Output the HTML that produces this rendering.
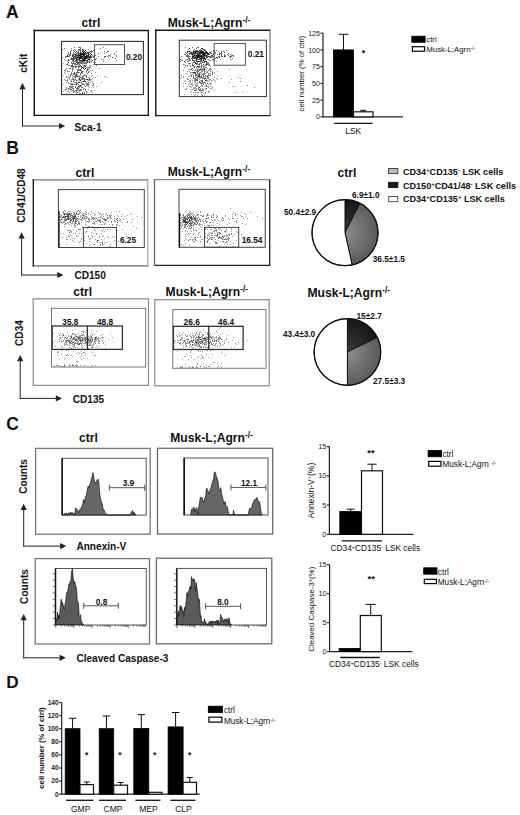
<!DOCTYPE html>
<html><head><meta charset="utf-8"><style>
html,body{margin:0;padding:0;background:#fff;}
body{width:520px;height:815px;overflow:hidden;}
svg{display:block;font-family:"Liberation Sans",sans-serif;}
</style></head><body>
<svg width="520" height="815" viewBox="0 0 520 815">
<defs><radialGradient id="gg" cx="50%" cy="50%" r="50%"><stop offset="0" stop-color="#8c8c8c"/><stop offset="1" stop-color="#5c5c5c"/></radialGradient><radialGradient id="gb" cx="50%" cy="50%" r="50%"><stop offset="0" stop-color="#3a3a3a"/><stop offset="1" stop-color="#151515"/></radialGradient><filter id="bl" x="-5%" y="-5%" width="110%" height="110%"><feGaussianBlur stdDeviation="0.35"/></filter></defs>
<rect width="520" height="815" fill="#fff"/>
<text x="5.9" y="17.9" font-size="17.5" font-weight="bold" text-anchor="start" fill="#111" >A</text>
<text x="91" y="26.7" font-size="12.1" font-weight="bold" text-anchor="middle" fill="#111" >ctrl</text>
<text x="167.8" y="26.7" font-size="12.1" font-weight="bold" text-anchor="start" fill="#111" >Musk-L;Agrn<tspan font-size="70%" baseline-shift="45%">-/-</tspan></text>
<line x1="33.6" y1="30.5" x2="149" y2="30.5" stroke="#1a1a1a" stroke-width="1.4"/>
<line x1="148.3" y1="30.5" x2="148.3" y2="115.4" stroke="#222" stroke-width="1.4"/>
<line x1="33.6" y1="115.4" x2="149" y2="115.4" stroke="#111" stroke-width="1.4"/>
<line x1="34.3" y1="29.8" x2="34.3" y2="116.1" stroke="#111" stroke-width="1.4"/>
<rect x="61.5" y="41.4" width="81.9" height="53.2" fill="none" stroke="#333" stroke-width="1.1" />
<path d="M90 51h1v1h-1zM76 56h1v1h-1zM78 51h1v1h-1zM73 53h1v1h-1zM85 54h1v1h-1zM80 52h1v1h-1zM93 50h1v1h-1zM87 53h1v1h-1zM87 58h1v1h-1zM91 56h1v1h-1zM83 56h1v1h-1zM82 60h1v1h-1zM89 54h1v1h-1zM76 55h1v1h-1zM94 54h1v1h-1zM79 56h1v1h-1zM79 54h1v1h-1zM74 56h1v1h-1zM76 57h1v1h-1zM84 61h1v1h-1zM82 57h1v1h-1zM91 57h1v1h-1zM86 61h1v1h-1zM90 58h1v1h-1zM77 56h1v1h-1zM83 51h1v1h-1zM76 51h1v1h-1zM86 51h1v1h-1zM82 55h1v1h-1zM79 62h1v1h-1zM82 67h1v1h-1zM71 65h1v1h-1zM87 57h1v1h-1zM84 63h1v1h-1zM65 56h1v1h-1zM91 52h1v1h-1zM91 59h1v1h-1zM77 53h1v1h-1zM78 49h1v1h-1zM71 50h1v1h-1zM101 59h1v1h-1zM79 53h1v1h-1zM93 56h1v1h-1zM70 55h1v1h-1zM89 52h1v1h-1zM83 62h1v1h-1zM76 53h1v1h-1zM74 49h1v1h-1zM70 68h1v1h-1zM80 61h1v1h-1zM68 60h1v1h-1zM81 66h1v1h-1zM73 55h1v1h-1zM84 65h1v1h-1zM79 64h1v1h-1zM74 59h1v1h-1zM85 60h1v1h-1zM79 47h1v1h-1zM85 59h1v1h-1zM72 58h1v1h-1zM81 55h1v1h-1zM88 49h1v1h-1zM86 54h1v1h-1zM80 62h1v1h-1zM89 58h1v1h-1zM71 48h1v1h-1zM84 52h1v1h-1zM74 51h1v1h-1zM74 47h1v1h-1zM73 50h1v1h-1zM66 56h1v1h-1zM95 55h1v1h-1zM96 65h1v1h-1zM72 60h1v1h-1zM86 63h1v1h-1zM73 56h1v1h-1zM69 55h1v1h-1zM92 55h1v1h-1zM89 67h1v1h-1zM68 59h1v1h-1zM73 60h1v1h-1zM92 51h1v1h-1zM77 61h1v1h-1zM74 58h1v1h-1zM65 57h1v1h-1zM72 63h1v1h-1zM80 48h1v1h-1zM95 59h1v1h-1zM74 63h1v1h-1zM80 49h1v1h-1zM72 59h1v1h-1zM80 47h1v1h-1zM79 50h1v1h-1zM76 64h1v1h-1zM81 52h1v1h-1zM70 51h1v1h-1zM64 48h1v1h-1zM78 59h1v1h-1zM78 62h1v1h-1zM82 50h1v1h-1zM67 64h1v1h-1zM83 49h1v1h-1zM78 53h1v1h-1zM68 53h1v1h-1zM90 61h1v1h-1zM89 68h1v1h-1zM82 52h1v1h-1zM68 54h1v1h-1zM79 60h1v1h-1zM69 56h1v1h-1zM70 52h1v1h-1zM78 47h1v1h-1zM83 50h1v1h-1zM94 55h1v1h-1zM93 57h1v1h-1zM79 49h1v1h-1zM70 54h1v1h-1zM75 60h1v1h-1zM80 51h1v1h-1zM86 53h1v1h-1zM85 63h1v1h-1zM84 62h1v1h-1zM83 61h1v1h-1zM72 54h1v1h-1zM85 68h1v1h-1zM78 58h1v1h-1zM62 49h1v1h-1zM85 66h1v1h-1zM94 58h1v1h-1zM83 65h1v1h-1zM96 58h1v1h-1zM91 51h1v1h-1zM73 52h1v1h-1zM68 52h1v1h-1zM73 62h1v1h-1zM83 67h1v1h-1zM75 66h1v1h-1zM68 56h1v1h-1zM89 60h1v1h-1zM89 51h1v1h-1zM79 61h1v1h-1zM89 56h1v1h-1zM73 63h1v1h-1zM74 57h1v1h-1zM75 58h1v1h-1zM73 59h1v1h-1zM114 53h1v1h-1zM109 55h1v1h-1zM108 57h1v1h-1zM115 58h1v1h-1zM104 56h1v1h-1zM103 61h1v1h-1zM106 52h1v1h-1zM116 56h1v1h-1zM98 53h1v1h-1zM116 60h1v1h-1zM103 59h1v1h-1zM100 48h1v1h-1zM116 51h1v1h-1zM107 56h1v1h-1zM98 56h1v1h-1zM114 54h1v1h-1zM116 55h1v1h-1zM110 54h1v1h-1zM103 47h1v1h-1zM110 56h1v1h-1zM107 51h1v1h-1zM104 57h1v1h-1zM104 53h1v1h-1zM108 51h1v1h-1zM108 55h1v1h-1zM104 51h1v1h-1z" fill="#111" fill-opacity="0.600" filter="url(#bl)"/>
<path d="M86 56h1v1h-1zM84 51h1v1h-1zM80 50h1v1h-1zM89 62h1v1h-1zM78 56h1v1h-1zM90 55h1v1h-1zM77 59h1v1h-1zM85 50h1v1h-1zM90 56h1v1h-1zM88 54h1v1h-1zM75 52h1v1h-1zM82 49h1v1h-1zM86 55h1v1h-1zM87 55h1v1h-1zM87 60h1v1h-1zM78 57h1v1h-1zM75 56h1v1h-1zM81 60h1v1h-1zM81 58h1v1h-1zM88 53h1v1h-1zM87 62h1v1h-1zM85 53h1v1h-1zM90 53h1v1h-1zM81 57h1v1h-1zM87 52h1v1h-1zM83 54h1v1h-1zM90 57h1v1h-1zM82 53h1v1h-1zM88 52h1v1h-1zM88 57h1v1h-1zM82 51h1v1h-1zM77 55h1v1h-1zM73 57h1v1h-1zM75 57h1v1h-1zM67 55h1v1h-1zM72 56h1v1h-1zM76 60h1v1h-1zM76 59h1v1h-1zM92 60h1v1h-1zM73 58h1v1h-1zM68 62h1v1h-1zM72 65h1v1h-1zM71 58h1v1h-1zM70 53h1v1h-1zM77 63h1v1h-1zM79 59h1v1h-1zM76 58h1v1h-1zM78 54h1v1h-1zM67 56h1v1h-1zM76 62h1v1h-1zM86 60h1v1h-1zM112 57h1v1h-1zM105 56h1v1h-1z" fill="#111" fill-opacity="0.840" filter="url(#bl)"/>
<path d="M85 58h1v1h-1zM80 58h1v1h-1zM82 61h1v1h-1zM82 58h1v1h-1zM81 53h1v1h-1zM86 58h1v1h-1zM75 54h1v1h-1zM88 56h1v1h-1zM83 52h1v1h-1zM84 60h1v1h-1zM84 59h1v1h-1zM79 57h1v1h-1zM89 59h1v1h-1zM83 59h1v1h-1zM82 59h1v1h-1zM83 60h1v1h-1zM83 55h1v1h-1zM85 52h1v1h-1zM80 55h1v1h-1zM75 55h1v1h-1zM86 57h1v1h-1zM89 57h1v1h-1zM88 59h1v1h-1zM79 58h1v1h-1zM91 54h1v1h-1zM72 55h1v1h-1zM74 54h1v1h-1zM80 53h1v1h-1z" fill="#111" fill-opacity="0.936" filter="url(#bl)"/>
<path d="M84 53h1v1h-1zM83 57h1v1h-1zM80 60h1v1h-1zM84 57h1v1h-1zM87 56h1v1h-1zM78 55h1v1h-1zM82 56h1v1h-1zM78 52h1v1h-1zM83 53h1v1h-1zM85 57h1v1h-1zM85 56h1v1h-1zM82 54h1v1h-1zM77 57h1v1h-1zM80 57h1v1h-1zM84 58h1v1h-1zM81 56h1v1h-1zM84 55h1v1h-1zM84 56h1v1h-1zM81 54h1v1h-1zM79 55h1v1h-1zM80 56h1v1h-1zM80 54h1v1h-1zM84 54h1v1h-1zM88 55h1v1h-1z" fill="#111" fill-opacity="0.974" filter="url(#bl)"/>
<path d="M78 50h1v1h-1zM87 70h1v1h-1zM77 61h1v1h-1zM87 68h1v1h-1zM79 69h1v1h-1zM78 87h1v1h-1zM77 66h1v1h-1zM71 58h1v1h-1zM87 67h1v1h-1zM75 58h1v1h-1zM82 72h1v1h-1zM95 59h1v1h-1zM81 58h1v1h-1zM93 83h1v1h-1zM82 76h1v1h-1zM79 77h1v1h-1zM76 72h1v1h-1zM64 72h1v1h-1zM77 75h1v1h-1zM73 54h1v1h-1zM77 57h1v1h-1zM67 61h1v1h-1zM65 70h1v1h-1zM70 74h1v1h-1zM62 57h1v1h-1zM91 61h1v1h-1zM70 76h1v1h-1zM84 85h1v1h-1zM68 77h1v1h-1zM78 56h1v1h-1zM83 83h1v1h-1zM93 64h1v1h-1zM79 93h1v1h-1zM83 60h1v1h-1zM92 56h1v1h-1zM63 63h1v1h-1zM86 72h1v1h-1zM72 70h1v1h-1zM67 63h1v1h-1zM79 72h1v1h-1zM88 58h1v1h-1zM70 81h1v1h-1zM72 61h1v1h-1zM75 74h1v1h-1zM72 60h1v1h-1zM86 65h1v1h-1zM85 65h1v1h-1zM66 64h1v1h-1zM73 61h1v1h-1zM93 77h1v1h-1zM85 62h1v1h-1zM88 61h1v1h-1zM78 66h1v1h-1zM66 76h1v1h-1zM90 66h1v1h-1zM70 59h1v1h-1zM77 74h1v1h-1zM80 86h1v1h-1zM81 77h1v1h-1zM88 67h1v1h-1zM78 94h1v1h-1zM95 62h1v1h-1zM67 64h1v1h-1zM85 74h1v1h-1zM74 80h1v1h-1zM74 66h1v1h-1zM75 73h1v1h-1zM69 54h1v1h-1zM77 52h1v1h-1zM81 73h1v1h-1zM81 82h1v1h-1zM70 66h1v1h-1zM89 71h1v1h-1zM79 65h1v1h-1zM73 84h1v1h-1zM73 78h1v1h-1zM80 58h1v1h-1zM62 65h1v1h-1zM87 59h1v1h-1zM84 60h1v1h-1zM68 83h1v1h-1zM72 71h1v1h-1zM93 84h1v1h-1zM79 61h1v1h-1zM74 64h1v1h-1zM70 87h1v1h-1zM78 65h1v1h-1zM79 76h1v1h-1zM72 68h1v1h-1zM77 70h1v1h-1zM87 57h1v1h-1zM65 73h1v1h-1zM76 62h1v1h-1zM64 70h1v1h-1zM91 51h1v1h-1zM76 67h1v1h-1zM76 54h1v1h-1zM72 66h1v1h-1zM78 69h1v1h-1zM78 59h1v1h-1zM63 75h1v1h-1zM77 58h1v1h-1zM72 67h1v1h-1zM80 63h1v1h-1zM84 65h1v1h-1zM75 66h1v1h-1zM86 67h1v1h-1zM88 79h1v1h-1zM77 60h1v1h-1zM85 59h1v1h-1zM68 62h1v1h-1zM80 62h1v1h-1zM76 61h1v1h-1zM65 71h1v1h-1zM86 85h1v1h-1zM77 64h1v1h-1zM82 61h1v1h-1zM83 77h1v1h-1zM93 62h1v1h-1zM78 68h1v1h-1zM67 80h1v1h-1zM67 71h1v1h-1zM69 60h1v1h-1zM66 89h1v1h-1zM89 65h1v1h-1zM76 64h1v1h-1zM73 68h1v1h-1zM81 71h1v1h-1zM84 88h1v1h-1zM88 71h1v1h-1zM88 83h1v1h-1zM89 75h1v1h-1zM84 57h1v1h-1zM75 50h1v1h-1zM90 67h1v1h-1zM84 67h1v1h-1zM86 58h1v1h-1zM75 64h1v1h-1zM80 69h1v1h-1zM88 80h1v1h-1zM75 60h1v1h-1zM69 83h1v1h-1zM95 77h1v1h-1zM75 65h1v1h-1zM85 66h1v1h-1zM75 67h1v1h-1zM71 65h1v1h-1zM85 50h1v1h-1zM81 57h1v1h-1zM78 64h1v1h-1zM73 59h1v1h-1zM90 57h1v1h-1zM78 60h1v1h-1zM89 61h1v1h-1zM81 62h1v1h-1zM74 61h1v1h-1zM74 74h1v1h-1zM83 51h1v1h-1zM90 65h1v1h-1zM82 62h1v1h-1zM91 79h1v1h-1zM67 79h1v1h-1zM69 71h1v1h-1zM67 81h1v1h-1zM91 81h1v1h-1zM83 71h1v1h-1zM92 70h1v1h-1zM78 67h1v1h-1zM79 58h1v1h-1zM80 75h1v1h-1zM91 50h1v1h-1zM65 69h1v1h-1zM81 75h1v1h-1zM71 63h1v1h-1zM85 64h1v1h-1zM66 77h1v1h-1zM87 53h1v1h-1zM74 76h1v1h-1zM83 67h1v1h-1zM72 64h1v1h-1zM91 62h1v1h-1zM67 60h1v1h-1zM90 80h1v1h-1zM93 85h1v1h-1zM79 63h1v1h-1zM77 54h1v1h-1zM66 80h1v1h-1zM71 57h1v1h-1zM89 57h1v1h-1zM69 78h1v1h-1zM77 63h1v1h-1zM81 90h1v1h-1zM86 70h1v1h-1zM82 64h1v1h-1zM82 77h1v1h-1zM68 74h1v1h-1zM68 82h1v1h-1zM64 79h1v1h-1zM68 71h1v1h-1zM65 60h1v1h-1zM80 66h1v1h-1zM82 63h1v1h-1zM95 72h1v1h-1zM67 70h1v1h-1zM73 80h1v1h-1zM77 55h1v1h-1zM92 78h1v1h-1zM69 79h1v1h-1zM81 61h1v1h-1zM81 78h1v1h-1zM68 60h1v1h-1zM71 50h1v1h-1zM83 79h1v1h-1zM83 63h1v1h-1zM73 67h1v1h-1zM83 57h1v1h-1zM83 58h1v1h-1zM64 59h1v1h-1zM82 73h1v1h-1zM76 59h1v1h-1zM85 60h1v1h-1zM91 76h1v1h-1zM69 86h1v1h-1zM86 62h1v1h-1zM80 82h1v1h-1zM69 65h1v1h-1zM84 79h1v1h-1zM73 63h1v1h-1zM93 87h1v1h-1zM71 72h1v1h-1zM90 70h1v1h-1zM91 90h1v1h-1zM91 73h1v1h-1zM78 62h1v1h-1zM88 84h1v1h-1zM81 86h1v1h-1zM73 81h1v1h-1zM83 94h1v1h-1zM71 83h1v1h-1zM78 78h1v1h-1zM75 82h1v1h-1zM87 81h1v1h-1zM90 79h1v1h-1zM88 77h1v1h-1zM85 75h1v1h-1zM83 75h1v1h-1zM81 87h1v1h-1zM81 81h1v1h-1zM92 94h1v1h-1zM86 82h1v1h-1zM77 80h1v1h-1zM75 76h1v1h-1zM86 83h1v1h-1zM72 83h1v1h-1zM92 83h1v1h-1zM82 83h1v1h-1zM72 90h1v1h-1zM79 87h1v1h-1zM63 84h1v1h-1zM84 84h1v1h-1zM83 78h1v1h-1zM90 91h1v1h-1zM81 89h1v1h-1zM87 83h1v1h-1zM79 89h1v1h-1zM79 80h1v1h-1zM87 85h1v1h-1zM80 74h1v1h-1zM82 81h1v1h-1zM79 67h1v1h-1zM79 75h1v1h-1zM75 90h1v1h-1zM89 80h1v1h-1zM83 84h1v1h-1zM79 91h1v1h-1zM94 90h1v1h-1zM72 79h1v1h-1zM92 81h1v1h-1zM88 86h1v1h-1zM72 87h1v1h-1zM70 86h1v1h-1zM80 93h1v1h-1zM79 86h1v1h-1zM83 91h1v1h-1zM90 82h1v1h-1zM66 82h1v1h-1zM72 75h1v1h-1zM84 92h1v1h-1zM78 79h1v1h-1zM72 78h1v1h-1zM74 84h1v1h-1zM89 87h1v1h-1zM71 74h1v1h-1zM80 79h1v1h-1zM71 80h1v1h-1zM86 84h1v1h-1zM75 92h1v1h-1zM85 79h1v1h-1zM74 77h1v1h-1zM92 75h1v1h-1zM83 89h1v1h-1zM92 85h1v1h-1zM89 77h1v1h-1zM71 79h1v1h-1zM65 80h1v1h-1zM75 84h1v1h-1zM73 86h1v1h-1zM78 92h1v1h-1zM70 83h1v1h-1zM74 79h1v1h-1zM68 89h1v1h-1zM85 83h1v1h-1zM81 83h1v1h-1zM67 76h1v1h-1zM72 77h1v1h-1zM91 91h1v1h-1zM88 85h1v1h-1zM78 81h1v1h-1zM69 92h1v1h-1zM86 92h1v1h-1zM89 84h1v1h-1zM70 88h1v1h-1zM63 91h1v1h-1zM81 79h1v1h-1zM66 88h1v1h-1zM66 93h1v1h-1zM88 89h1v1h-1zM92 92h1v1h-1zM85 90h1v1h-1zM65 90h1v1h-1zM66 87h1v1h-1zM78 89h1v1h-1zM72 94h1v1h-1zM72 88h1v1h-1zM73 91h1v1h-1zM68 91h1v1h-1zM81 85h1v1h-1zM71 86h1v1h-1zM76 85h1v1h-1zM70 85h1v1h-1zM76 93h1v1h-1zM87 92h1v1h-1zM83 88h1v1h-1zM69 87h1v1h-1zM67 91h1v1h-1zM71 91h1v1h-1zM68 90h1v1h-1zM76 94h1v1h-1zM75 86h1v1h-1zM69 88h1v1h-1zM77 90h1v1h-1zM73 89h1v1h-1zM104 76h1v1h-1zM96 86h1v1h-1zM106 77h1v1h-1zM101 82h1v1h-1zM97 76h1v1h-1zM99 68h1v1h-1z" fill="#111" fill-opacity="0.450" filter="url(#bl)"/>
<path d="M71 59h1v1h-1zM66 68h1v1h-1zM76 80h1v1h-1zM77 62h1v1h-1zM82 71h1v1h-1zM75 61h1v1h-1zM86 91h1v1h-1zM73 74h1v1h-1zM75 63h1v1h-1zM79 66h1v1h-1zM81 66h1v1h-1zM81 68h1v1h-1zM71 62h1v1h-1zM76 83h1v1h-1zM77 71h1v1h-1zM85 68h1v1h-1zM78 70h1v1h-1zM76 74h1v1h-1zM76 76h1v1h-1zM84 69h1v1h-1zM73 79h1v1h-1zM88 69h1v1h-1zM69 68h1v1h-1zM73 60h1v1h-1zM71 66h1v1h-1zM77 83h1v1h-1zM73 58h1v1h-1zM71 73h1v1h-1zM73 76h1v1h-1zM85 81h1v1h-1zM73 73h1v1h-1zM80 56h1v1h-1zM77 88h1v1h-1zM75 75h1v1h-1zM78 76h1v1h-1zM79 59h1v1h-1zM78 84h1v1h-1zM89 78h1v1h-1zM81 70h1v1h-1zM79 70h1v1h-1zM78 63h1v1h-1zM72 65h1v1h-1zM71 81h1v1h-1zM83 76h1v1h-1zM74 73h1v1h-1zM80 65h1v1h-1zM74 82h1v1h-1zM74 72h1v1h-1zM86 71h1v1h-1zM78 72h1v1h-1zM72 69h1v1h-1zM89 62h1v1h-1zM84 66h1v1h-1zM76 75h1v1h-1zM77 69h1v1h-1zM81 67h1v1h-1zM86 77h1v1h-1zM76 66h1v1h-1zM80 73h1v1h-1zM87 61h1v1h-1zM69 77h1v1h-1zM84 75h1v1h-1zM86 75h1v1h-1zM87 73h1v1h-1zM88 82h1v1h-1zM80 77h1v1h-1zM80 90h1v1h-1zM72 86h1v1h-1zM68 65h1v1h-1zM86 76h1v1h-1zM76 73h1v1h-1zM75 79h1v1h-1zM65 89h1v1h-1zM76 88h1v1h-1zM77 87h1v1h-1zM82 92h1v1h-1zM82 87h1v1h-1zM73 92h1v1h-1zM87 84h1v1h-1zM82 84h1v1h-1zM76 90h1v1h-1zM79 90h1v1h-1zM71 87h1v1h-1zM84 81h1v1h-1zM84 93h1v1h-1zM89 79h1v1h-1zM76 82h1v1h-1zM85 86h1v1h-1zM78 88h1v1h-1zM79 85h1v1h-1zM73 90h1v1h-1zM79 82h1v1h-1zM82 78h1v1h-1zM73 88h1v1h-1zM84 78h1v1h-1zM77 89h1v1h-1zM82 79h1v1h-1zM68 88h1v1h-1zM79 79h1v1h-1zM80 89h1v1h-1zM85 89h1v1h-1zM74 91h1v1h-1zM77 92h1v1h-1z" fill="#111" fill-opacity="0.698" filter="url(#bl)"/>
<path d="M82 54h1v1h-1zM83 81h1v1h-1zM87 69h1v1h-1zM79 78h1v1h-1zM72 84h1v1h-1zM81 63h1v1h-1zM73 66h1v1h-1zM76 91h1v1h-1zM70 75h1v1h-1zM76 84h1v1h-1zM77 76h1v1h-1zM87 79h1v1h-1zM83 68h1v1h-1zM81 72h1v1h-1zM80 70h1v1h-1zM75 77h1v1h-1zM70 89h1v1h-1zM86 79h1v1h-1zM88 72h1v1h-1zM77 72h1v1h-1zM84 80h1v1h-1zM78 86h1v1h-1zM75 87h1v1h-1zM78 82h1v1h-1zM71 89h1v1h-1z" fill="#111" fill-opacity="0.834" filter="url(#bl)"/>
<path d="M71 84h1v1h-1zM82 93h1v1h-1zM80 80h1v1h-1zM80 85h1v1h-1z" fill="#111" fill-opacity="0.908" filter="url(#bl)"/>
<rect x="94.6" y="44.7" width="29.9" height="19.8" fill="none" stroke="#555" stroke-width="1" />
<text x="125.9" y="59.9" font-size="8.3" font-weight="bold" text-anchor="start" fill="#111" >0.20</text>
<line x1="155.1" y1="30.3" x2="270.7" y2="30.3" stroke="#1a1a1a" stroke-width="1.4"/>
<line x1="270" y1="30.3" x2="270" y2="115.6" stroke="#888" stroke-width="1.4"/>
<line x1="155.1" y1="115.6" x2="270.7" y2="115.6" stroke="#222" stroke-width="1.4"/>
<line x1="155.8" y1="29.6" x2="155.8" y2="116.3" stroke="#111" stroke-width="1.4"/>
<rect x="179.3" y="40.2" width="87.1" height="56.4" fill="none" stroke="#333" stroke-width="1" />
<path d="M195 56h1v1h-1zM204 52h1v1h-1zM195 50h1v1h-1zM194 56h1v1h-1zM199 59h1v1h-1zM195 54h1v1h-1zM214 57h1v1h-1zM186 55h1v1h-1zM211 56h1v1h-1zM204 62h1v1h-1zM207 56h1v1h-1zM196 50h1v1h-1zM189 54h1v1h-1zM204 56h1v1h-1zM201 60h1v1h-1zM210 57h1v1h-1zM193 53h1v1h-1zM203 59h1v1h-1zM200 54h1v1h-1zM198 52h1v1h-1zM207 55h1v1h-1zM192 52h1v1h-1zM188 55h1v1h-1zM210 53h1v1h-1zM190 52h1v1h-1zM213 51h1v1h-1zM199 54h1v1h-1zM191 54h1v1h-1zM212 59h1v1h-1zM202 57h1v1h-1zM192 58h1v1h-1zM198 59h1v1h-1zM197 52h1v1h-1zM209 57h1v1h-1zM209 52h1v1h-1zM205 51h1v1h-1zM214 50h1v1h-1zM194 54h1v1h-1zM184 54h1v1h-1zM205 54h1v1h-1zM206 61h1v1h-1zM210 56h1v1h-1zM196 53h1v1h-1zM202 55h1v1h-1zM204 49h1v1h-1zM193 55h1v1h-1zM194 49h1v1h-1zM202 60h1v1h-1zM211 57h1v1h-1zM193 58h1v1h-1zM203 60h1v1h-1zM197 50h1v1h-1zM199 51h1v1h-1zM192 63h1v1h-1zM185 60h1v1h-1zM193 62h1v1h-1zM209 60h1v1h-1zM192 55h1v1h-1zM185 52h1v1h-1zM217 58h1v1h-1zM209 65h1v1h-1zM189 56h1v1h-1zM195 55h1v1h-1zM200 60h1v1h-1zM186 56h1v1h-1zM197 63h1v1h-1zM192 60h1v1h-1zM197 58h1v1h-1zM204 68h1v1h-1zM202 49h1v1h-1zM213 56h1v1h-1zM199 64h1v1h-1zM196 67h1v1h-1zM197 61h1v1h-1zM208 59h1v1h-1zM191 58h1v1h-1zM208 63h1v1h-1zM200 59h1v1h-1zM206 62h1v1h-1zM195 60h1v1h-1zM195 58h1v1h-1zM183 64h1v1h-1zM188 56h1v1h-1zM185 47h1v1h-1zM186 59h1v1h-1zM200 57h1v1h-1zM197 62h1v1h-1zM196 60h1v1h-1zM188 51h1v1h-1zM188 57h1v1h-1zM189 59h1v1h-1zM211 55h1v1h-1zM200 49h1v1h-1zM184 61h1v1h-1zM180 61h1v1h-1zM185 54h1v1h-1zM200 61h1v1h-1zM196 63h1v1h-1zM182 60h1v1h-1zM188 49h1v1h-1zM193 57h1v1h-1zM187 54h1v1h-1zM194 62h1v1h-1zM213 54h1v1h-1zM185 62h1v1h-1zM200 62h1v1h-1zM189 63h1v1h-1zM193 50h1v1h-1zM197 59h1v1h-1zM202 62h1v1h-1zM204 61h1v1h-1zM198 53h1v1h-1zM186 53h1v1h-1zM187 61h1v1h-1zM195 62h1v1h-1zM215 58h1v1h-1zM197 47h1v1h-1zM211 51h1v1h-1zM196 52h1v1h-1zM199 63h1v1h-1zM194 52h1v1h-1zM193 54h1v1h-1zM196 64h1v1h-1zM209 56h1v1h-1zM201 61h1v1h-1zM213 60h1v1h-1zM181 56h1v1h-1zM190 51h1v1h-1zM214 51h1v1h-1zM206 64h1v1h-1zM190 66h1v1h-1zM190 56h1v1h-1zM201 67h1v1h-1zM213 59h1v1h-1zM221 51h1v1h-1zM212 57h1v1h-1zM203 66h1v1h-1zM203 62h1v1h-1zM205 56h1v1h-1zM187 59h1v1h-1zM194 61h1v1h-1zM214 55h1v1h-1zM199 57h1v1h-1zM188 60h1v1h-1zM192 47h1v1h-1zM198 47h1v1h-1zM207 63h1v1h-1zM200 50h1v1h-1zM196 48h1v1h-1zM187 55h1v1h-1zM190 60h1v1h-1zM233 55h1v1h-1zM223 51h1v1h-1zM218 56h1v1h-1zM217 57h1v1h-1zM215 52h1v1h-1zM221 54h1v1h-1zM219 56h1v1h-1zM233 56h1v1h-1zM224 54h1v1h-1zM226 50h1v1h-1zM215 53h1v1h-1zM218 51h1v1h-1zM231 55h1v1h-1zM212 56h1v1h-1zM227 54h1v1h-1zM231 56h1v1h-1zM230 56h1v1h-1zM228 55h1v1h-1zM230 59h1v1h-1zM230 54h1v1h-1zM216 50h1v1h-1zM232 55h1v1h-1zM213 50h1v1h-1zM222 56h1v1h-1zM221 56h1v1h-1zM221 53h1v1h-1zM217 54h1v1h-1zM220 59h1v1h-1zM229 56h1v1h-1zM224 55h1v1h-1zM225 55h1v1h-1zM228 53h1v1h-1zM225 56h1v1h-1zM232 58h1v1h-1zM219 53h1v1h-1z" fill="#111" fill-opacity="0.600" filter="url(#bl)"/>
<path d="M191 52h1v1h-1zM198 61h1v1h-1zM202 56h1v1h-1zM201 59h1v1h-1zM208 54h1v1h-1zM210 52h1v1h-1zM206 51h1v1h-1zM200 53h1v1h-1zM202 53h1v1h-1zM191 53h1v1h-1zM205 50h1v1h-1zM211 53h1v1h-1zM206 56h1v1h-1zM197 54h1v1h-1zM200 55h1v1h-1zM195 52h1v1h-1zM190 53h1v1h-1zM196 59h1v1h-1zM197 51h1v1h-1zM201 51h1v1h-1zM204 57h1v1h-1zM207 54h1v1h-1zM194 53h1v1h-1zM199 53h1v1h-1zM196 57h1v1h-1zM212 55h1v1h-1zM198 51h1v1h-1zM207 52h1v1h-1zM204 53h1v1h-1zM201 53h1v1h-1zM207 53h1v1h-1zM195 57h1v1h-1zM193 51h1v1h-1zM207 57h1v1h-1zM209 54h1v1h-1zM205 52h1v1h-1zM199 50h1v1h-1zM192 53h1v1h-1zM194 57h1v1h-1zM192 57h1v1h-1zM206 57h1v1h-1zM199 61h1v1h-1zM203 57h1v1h-1zM195 63h1v1h-1zM187 56h1v1h-1zM192 59h1v1h-1zM193 60h1v1h-1zM189 53h1v1h-1zM205 61h1v1h-1zM205 58h1v1h-1zM213 53h1v1h-1zM201 48h1v1h-1zM199 58h1v1h-1zM187 52h1v1h-1zM189 48h1v1h-1zM196 61h1v1h-1zM224 52h1v1h-1zM230 57h1v1h-1zM220 53h1v1h-1zM221 55h1v1h-1zM221 52h1v1h-1z" fill="#111" fill-opacity="0.840" filter="url(#bl)"/>
<path d="M203 55h1v1h-1zM196 51h1v1h-1zM200 58h1v1h-1zM201 55h1v1h-1zM202 58h1v1h-1zM197 53h1v1h-1zM201 50h1v1h-1zM200 51h1v1h-1zM193 52h1v1h-1zM205 53h1v1h-1zM189 51h1v1h-1zM194 51h1v1h-1zM203 49h1v1h-1zM204 55h1v1h-1zM203 58h1v1h-1zM206 53h1v1h-1zM208 53h1v1h-1zM201 58h1v1h-1zM204 50h1v1h-1zM195 53h1v1h-1zM197 57h1v1h-1zM204 54h1v1h-1zM202 52h1v1h-1zM195 51h1v1h-1zM202 48h1v1h-1zM208 56h1v1h-1zM203 53h1v1h-1zM202 54h1v1h-1zM192 56h1v1h-1zM194 58h1v1h-1zM189 58h1v1h-1zM196 58h1v1h-1zM192 54h1v1h-1zM187 51h1v1h-1zM216 57h1v1h-1zM219 57h1v1h-1zM224 56h1v1h-1z" fill="#111" fill-opacity="0.936" filter="url(#bl)"/>
<path d="M205 59h1v1h-1zM203 56h1v1h-1zM196 55h1v1h-1zM205 55h1v1h-1zM198 57h1v1h-1zM202 51h1v1h-1zM204 58h1v1h-1zM198 55h1v1h-1zM201 52h1v1h-1zM199 56h1v1h-1zM199 55h1v1h-1zM203 51h1v1h-1zM196 56h1v1h-1zM197 55h1v1h-1zM206 52h1v1h-1zM201 57h1v1h-1zM206 55h1v1h-1zM203 52h1v1h-1zM200 52h1v1h-1zM201 56h1v1h-1zM203 54h1v1h-1zM199 52h1v1h-1zM198 54h1v1h-1zM198 56h1v1h-1zM200 56h1v1h-1zM193 56h1v1h-1zM197 56h1v1h-1zM194 55h1v1h-1zM219 54h1v1h-1z" fill="#111" fill-opacity="0.974" filter="url(#bl)"/>
<path d="M190 82h1v1h-1zM195 85h1v1h-1zM193 73h1v1h-1zM201 73h1v1h-1zM195 88h1v1h-1zM205 73h1v1h-1zM202 61h1v1h-1zM187 79h1v1h-1zM199 67h1v1h-1zM200 66h1v1h-1zM201 71h1v1h-1zM194 95h1v1h-1zM196 63h1v1h-1zM194 83h1v1h-1zM208 62h1v1h-1zM210 83h1v1h-1zM200 86h1v1h-1zM191 83h1v1h-1zM197 64h1v1h-1zM200 83h1v1h-1zM199 65h1v1h-1zM201 85h1v1h-1zM205 69h1v1h-1zM202 60h1v1h-1zM195 74h1v1h-1zM207 78h1v1h-1zM187 71h1v1h-1zM216 61h1v1h-1zM209 73h1v1h-1zM204 59h1v1h-1zM221 78h1v1h-1zM197 82h1v1h-1zM197 85h1v1h-1zM203 78h1v1h-1zM203 73h1v1h-1zM201 65h1v1h-1zM204 76h1v1h-1zM191 72h1v1h-1zM197 79h1v1h-1zM200 76h1v1h-1zM201 64h1v1h-1zM193 78h1v1h-1zM206 70h1v1h-1zM184 94h1v1h-1zM198 67h1v1h-1zM190 72h1v1h-1zM195 82h1v1h-1zM213 79h1v1h-1zM206 79h1v1h-1zM192 82h1v1h-1zM192 80h1v1h-1zM201 84h1v1h-1zM204 95h1v1h-1zM204 71h1v1h-1zM196 66h1v1h-1zM208 65h1v1h-1zM205 82h1v1h-1zM183 86h1v1h-1zM201 67h1v1h-1zM199 61h1v1h-1zM191 68h1v1h-1zM205 83h1v1h-1zM210 60h1v1h-1zM196 83h1v1h-1zM195 92h1v1h-1zM210 79h1v1h-1zM214 73h1v1h-1zM207 77h1v1h-1zM212 80h1v1h-1zM211 80h1v1h-1zM210 88h1v1h-1zM190 63h1v1h-1zM204 70h1v1h-1zM207 68h1v1h-1zM214 80h1v1h-1zM212 71h1v1h-1zM205 89h1v1h-1zM195 79h1v1h-1zM184 64h1v1h-1zM202 77h1v1h-1zM200 80h1v1h-1zM217 75h1v1h-1zM205 88h1v1h-1zM197 84h1v1h-1zM204 66h1v1h-1zM193 75h1v1h-1zM188 79h1v1h-1zM210 66h1v1h-1zM207 72h1v1h-1zM204 60h1v1h-1zM203 89h1v1h-1zM208 86h1v1h-1zM194 60h1v1h-1zM208 81h1v1h-1zM202 71h1v1h-1zM206 72h1v1h-1zM205 77h1v1h-1zM210 84h1v1h-1zM210 70h1v1h-1zM216 78h1v1h-1zM203 70h1v1h-1zM201 70h1v1h-1zM200 74h1v1h-1zM194 81h1v1h-1zM191 84h1v1h-1zM190 69h1v1h-1zM208 73h1v1h-1zM201 80h1v1h-1zM197 69h1v1h-1zM185 62h1v1h-1zM203 62h1v1h-1zM203 93h1v1h-1zM195 87h1v1h-1zM194 78h1v1h-1zM215 81h1v1h-1zM190 84h1v1h-1zM205 65h1v1h-1zM207 80h1v1h-1zM188 76h1v1h-1zM189 83h1v1h-1zM204 86h1v1h-1zM194 80h1v1h-1zM183 76h1v1h-1zM194 64h1v1h-1zM203 82h1v1h-1zM202 68h1v1h-1zM192 74h1v1h-1zM208 87h1v1h-1zM206 65h1v1h-1zM193 69h1v1h-1zM198 59h1v1h-1zM197 78h1v1h-1zM198 69h1v1h-1zM202 70h1v1h-1zM203 83h1v1h-1zM209 79h1v1h-1zM183 70h1v1h-1zM207 75h1v1h-1zM197 83h1v1h-1zM204 73h1v1h-1zM197 75h1v1h-1zM190 80h1v1h-1zM205 71h1v1h-1zM203 75h1v1h-1zM207 86h1v1h-1zM199 72h1v1h-1zM211 69h1v1h-1zM210 71h1v1h-1zM198 64h1v1h-1zM210 68h1v1h-1zM190 81h1v1h-1zM212 59h1v1h-1zM188 63h1v1h-1zM204 61h1v1h-1zM200 63h1v1h-1zM192 70h1v1h-1zM206 67h1v1h-1zM207 62h1v1h-1zM196 69h1v1h-1zM204 65h1v1h-1zM197 76h1v1h-1zM200 90h1v1h-1zM214 68h1v1h-1zM206 86h1v1h-1zM198 68h1v1h-1zM189 64h1v1h-1zM200 77h1v1h-1zM214 72h1v1h-1zM208 74h1v1h-1zM205 85h1v1h-1zM197 61h1v1h-1zM199 73h1v1h-1zM204 74h1v1h-1zM207 71h1v1h-1zM189 69h1v1h-1zM190 73h1v1h-1zM199 64h1v1h-1zM208 64h1v1h-1zM209 64h1v1h-1zM209 69h1v1h-1zM203 77h1v1h-1zM203 74h1v1h-1zM191 58h1v1h-1zM195 69h1v1h-1zM200 72h1v1h-1zM207 81h1v1h-1zM209 80h1v1h-1zM198 73h1v1h-1zM199 69h1v1h-1zM197 77h1v1h-1zM211 83h1v1h-1zM194 70h1v1h-1zM204 62h1v1h-1zM212 73h1v1h-1zM201 72h1v1h-1zM209 83h1v1h-1zM198 70h1v1h-1zM197 71h1v1h-1zM196 80h1v1h-1zM193 88h1v1h-1zM211 86h1v1h-1zM194 79h1v1h-1zM190 75h1v1h-1zM203 68h1v1h-1zM194 73h1v1h-1zM217 71h1v1h-1zM202 86h1v1h-1zM193 76h1v1h-1zM197 58h1v1h-1zM207 59h1v1h-1zM197 68h1v1h-1zM209 75h1v1h-1zM189 60h1v1h-1zM198 86h1v1h-1zM195 84h1v1h-1zM196 71h1v1h-1zM210 73h1v1h-1zM209 68h1v1h-1zM197 73h1v1h-1zM199 79h1v1h-1zM208 84h1v1h-1zM206 76h1v1h-1zM195 76h1v1h-1zM189 63h1v1h-1zM214 77h1v1h-1zM201 75h1v1h-1zM202 65h1v1h-1zM196 92h1v1h-1zM205 64h1v1h-1zM198 78h1v1h-1zM203 69h1v1h-1zM210 69h1v1h-1zM185 80h1v1h-1zM195 81h1v1h-1zM188 61h1v1h-1zM208 92h1v1h-1zM202 92h1v1h-1zM192 85h1v1h-1zM202 89h1v1h-1zM200 89h1v1h-1zM185 89h1v1h-1zM196 88h1v1h-1zM202 85h1v1h-1zM200 91h1v1h-1zM189 86h1v1h-1zM202 88h1v1h-1zM194 87h1v1h-1zM203 90h1v1h-1zM199 89h1v1h-1zM190 92h1v1h-1zM188 84h1v1h-1zM202 90h1v1h-1zM198 87h1v1h-1zM187 86h1v1h-1zM192 89h1v1h-1zM209 91h1v1h-1zM205 93h1v1h-1zM186 89h1v1h-1zM197 95h1v1h-1zM201 94h1v1h-1zM196 85h1v1h-1zM210 86h1v1h-1zM208 91h1v1h-1zM197 92h1v1h-1zM191 87h1v1h-1zM212 89h1v1h-1zM206 84h1v1h-1zM211 88h1v1h-1zM191 94h1v1h-1zM196 89h1v1h-1zM200 88h1v1h-1zM212 87h1v1h-1zM202 83h1v1h-1zM196 90h1v1h-1zM214 90h1v1h-1zM192 84h1v1h-1zM195 94h1v1h-1zM191 89h1v1h-1zM183 83h1v1h-1zM205 92h1v1h-1zM193 92h1v1h-1zM194 88h1v1h-1zM191 91h1v1h-1zM238 77h1v1h-1zM254 87h1v1h-1zM235 92h1v1h-1zM231 79h1v1h-1zM232 86h1v1h-1zM229 69h1v1h-1zM240 81h1v1h-1zM229 82h1v1h-1zM240 78h1v1h-1zM217 79h1v1h-1zM234 86h1v1h-1zM242 91h1v1h-1zM195 70h1v1h-1zM190 65h1v1h-1zM193 58h1v1h-1zM184 67h1v1h-1zM184 81h1v1h-1zM189 76h1v1h-1zM183 77h1v1h-1zM181 77h1v1h-1zM185 66h1v1h-1zM191 75h1v1h-1zM187 61h1v1h-1zM190 78h1v1h-1zM181 75h1v1h-1zM184 61h1v1h-1zM187 78h1v1h-1zM195 63h1v1h-1zM200 78h1v1h-1zM196 58h1v1h-1zM186 73h1v1h-1zM191 74h1v1h-1zM188 69h1v1h-1zM188 81h1v1h-1zM187 66h1v1h-1zM189 80h1v1h-1zM185 83h1v1h-1zM189 71h1v1h-1zM204 79h1v1h-1zM187 74h1v1h-1zM186 88h1v1h-1zM200 68h1v1h-1zM180 78h1v1h-1zM181 60h1v1h-1zM188 58h1v1h-1z" fill="#111" fill-opacity="0.450" filter="url(#bl)"/>
<path d="M207 64h1v1h-1zM201 69h1v1h-1zM201 83h1v1h-1zM194 66h1v1h-1zM202 82h1v1h-1zM199 77h1v1h-1zM198 76h1v1h-1zM196 79h1v1h-1zM202 69h1v1h-1zM192 72h1v1h-1zM202 78h1v1h-1zM210 75h1v1h-1zM203 67h1v1h-1zM203 64h1v1h-1zM204 72h1v1h-1zM193 66h1v1h-1zM199 75h1v1h-1zM201 59h1v1h-1zM198 71h1v1h-1zM201 77h1v1h-1zM206 64h1v1h-1zM191 69h1v1h-1zM198 75h1v1h-1zM196 75h1v1h-1zM191 76h1v1h-1zM206 63h1v1h-1zM201 90h1v1h-1zM208 75h1v1h-1zM193 72h1v1h-1zM208 70h1v1h-1zM199 82h1v1h-1zM203 76h1v1h-1zM196 86h1v1h-1zM207 76h1v1h-1zM206 80h1v1h-1zM197 72h1v1h-1zM195 78h1v1h-1zM201 63h1v1h-1zM198 61h1v1h-1zM199 87h1v1h-1zM199 70h1v1h-1zM199 81h1v1h-1zM204 82h1v1h-1zM200 82h1v1h-1zM195 90h1v1h-1zM212 74h1v1h-1zM206 88h1v1h-1zM196 74h1v1h-1zM205 67h1v1h-1zM202 80h1v1h-1zM207 83h1v1h-1zM194 61h1v1h-1zM206 61h1v1h-1zM195 73h1v1h-1zM201 66h1v1h-1zM197 70h1v1h-1zM208 77h1v1h-1zM198 89h1v1h-1zM202 95h1v1h-1zM196 59h1v1h-1zM192 68h1v1h-1zM203 84h1v1h-1zM201 81h1v1h-1zM208 78h1v1h-1zM202 81h1v1h-1zM192 65h1v1h-1zM195 75h1v1h-1zM195 80h1v1h-1zM194 67h1v1h-1zM204 78h1v1h-1zM212 72h1v1h-1zM192 64h1v1h-1zM199 66h1v1h-1zM193 65h1v1h-1zM206 85h1v1h-1zM187 65h1v1h-1zM201 76h1v1h-1zM190 86h1v1h-1zM199 90h1v1h-1zM198 92h1v1h-1zM201 92h1v1h-1zM194 90h1v1h-1zM198 88h1v1h-1zM247 85h1v1h-1zM180 59h1v1h-1zM185 65h1v1h-1z" fill="#111" fill-opacity="0.698" filter="url(#bl)"/>
<path d="M205 75h1v1h-1zM205 78h1v1h-1zM198 66h1v1h-1zM198 74h1v1h-1zM205 80h1v1h-1zM199 76h1v1h-1zM194 72h1v1h-1zM199 74h1v1h-1zM200 69h1v1h-1zM196 77h1v1h-1zM195 72h1v1h-1zM197 80h1v1h-1zM197 66h1v1h-1zM193 77h1v1h-1zM203 60h1v1h-1zM202 74h1v1h-1z" fill="#111" fill-opacity="0.834" filter="url(#bl)"/>
<path d="M204 69h1v1h-1z" fill="#111" fill-opacity="0.908" filter="url(#bl)"/>
<rect x="214.2" y="43.4" width="31.2" height="21.8" fill="none" stroke="#555" stroke-width="1" />
<text x="247.8" y="57.2" font-size="8.3" font-weight="bold" text-anchor="start" fill="#111" >0.21</text>
<text x="26.7" y="63.2" font-size="10.1" font-weight="bold" text-anchor="middle" fill="#111" transform="rotate(-90 26.7 63.2)" >cKit</text>
<line x1="22.5" y1="87.1" x2="22.5" y2="126.5" stroke="#222" stroke-width="1"/>
<line x1="22" y1="126" x2="61.2" y2="126" stroke="#222" stroke-width="1"/>
<path d="M22.5 83.1 L19.4 89.3 L25.6 89.3 Z" fill="#222"/>
<path d="M65.2 126 L59 122.9 L59 129.1 Z" fill="#222"/>
<text x="74.6" y="130.6" font-size="10.1" font-weight="bold" text-anchor="start" fill="#111" >Sca-1</text>
<line x1="323" y1="32.9" x2="323" y2="116.9" stroke="#222" stroke-width="1.2"/>
<line x1="320.5" y1="116.9" x2="323" y2="116.9" stroke="#222" stroke-width="1.2"/>
<text x="320" y="119.46" font-size="7.1" text-anchor="end" fill="#222" >0</text>
<line x1="320.5" y1="100.16" x2="323" y2="100.16" stroke="#222" stroke-width="1.2"/>
<text x="320" y="102.72" font-size="7.1" text-anchor="end" fill="#222" >25</text>
<line x1="320.5" y1="83.42" x2="323" y2="83.42" stroke="#222" stroke-width="1.2"/>
<text x="320" y="85.98" font-size="7.1" text-anchor="end" fill="#222" >50</text>
<line x1="320.5" y1="66.68" x2="323" y2="66.68" stroke="#222" stroke-width="1.2"/>
<text x="320" y="69.24" font-size="7.1" text-anchor="end" fill="#222" >75</text>
<line x1="320.5" y1="49.94" x2="323" y2="49.94" stroke="#222" stroke-width="1.2"/>
<text x="320" y="52.5" font-size="7.1" text-anchor="end" fill="#222" >100</text>
<line x1="320.5" y1="33.2" x2="323" y2="33.2" stroke="#222" stroke-width="1.2"/>
<text x="320" y="35.76" font-size="7.1" text-anchor="end" fill="#222" >125</text>
<line x1="323" y1="116.9" x2="403" y2="116.9" stroke="#222" stroke-width="1.2"/>
<line x1="343.5" y1="34.3" x2="343.5" y2="50" stroke="#111" stroke-width="1"/>
<line x1="338.5" y1="34.3" x2="348.5" y2="34.3" stroke="#111" stroke-width="1"/>
<rect x="333.4" y="49.9" width="20.1" height="67" fill="#000" stroke="#000" stroke-width="0.8" />
<line x1="363.2" y1="110.3" x2="363.2" y2="111.8" stroke="#111" stroke-width="1"/>
<line x1="360.2" y1="110.3" x2="366.2" y2="110.3" stroke="#111" stroke-width="1"/>
<rect x="353.5" y="111.8" width="19.5" height="5.1" fill="#fff" stroke="#111" stroke-width="1.2" />
<text x="363.4" y="56" font-size="9" font-weight="bold" text-anchor="middle" fill="#111" >*</text>
<line x1="334.3" y1="123.4" x2="372.6" y2="123.4" stroke="#111" stroke-width="1.2"/>
<text x="353.2" y="134" font-size="8.4" text-anchor="middle" fill="#111" >LSK</text>
<text x="304" y="73.5" font-size="7.8" text-anchor="middle" fill="#111" transform="rotate(-90 304 73.5)" >cell number (% of ctrl)</text>
<rect x="411.8" y="36.2" width="13.3" height="6.1" fill="#000" stroke="#000" stroke-width="0.8" />
<rect x="412.4" y="46.7" width="12.1" height="4.5" fill="#fff" stroke="#000" stroke-width="1.2" />
<text x="426.3" y="42.11" font-size="7.8" text-anchor="start" fill="#111" >ctrl</text>
<text x="426.3" y="51.81" font-size="7.8" text-anchor="start" fill="#111" >Musk-L;Agrn<tspan font-size="65%" baseline-shift="45%">-/-</tspan></text>
<text x="6.2" y="154.2" font-size="17.5" font-weight="bold" text-anchor="start" fill="#111" >B</text>
<text x="85" y="177.4" font-size="12.1" font-weight="bold" text-anchor="middle" fill="#111" >ctrl</text>
<text x="167.7" y="176.2" font-size="12.1" font-weight="bold" text-anchor="start" fill="#111" >Musk-L;Agrn<tspan font-size="70%" baseline-shift="45%">-/-</tspan></text>
<line x1="32.65" y1="179.9" x2="148.35" y2="179.9" stroke="#777" stroke-width="1.3"/>
<line x1="147.7" y1="179.9" x2="147.7" y2="265.8" stroke="#aaa" stroke-width="1.3"/>
<line x1="32.65" y1="265.8" x2="148.35" y2="265.8" stroke="#666" stroke-width="1.3"/>
<line x1="33.3" y1="179.25" x2="33.3" y2="266.45" stroke="#111" stroke-width="1.3"/>
<rect x="58.4" y="189.6" width="85.9" height="57.9" fill="none" stroke="#444" stroke-width="1" />
<path d="M64 220h1v1h-1zM60 216h1v1h-1zM60 219h1v1h-1zM75 214h1v1h-1zM74 223h1v1h-1zM76 211h1v1h-1zM60 221h1v1h-1zM72 217h1v1h-1zM62 219h1v1h-1zM68 211h1v1h-1zM60 214h1v1h-1zM61 216h1v1h-1zM66 218h1v1h-1zM65 211h1v1h-1zM69 216h1v1h-1zM60 217h1v1h-1zM62 223h1v1h-1zM76 218h1v1h-1zM68 223h1v1h-1zM82 226h1v1h-1zM64 221h1v1h-1zM69 221h1v1h-1zM85 222h1v1h-1zM76 212h1v1h-1zM66 223h1v1h-1zM80 217h1v1h-1zM70 219h1v1h-1zM63 213h1v1h-1zM74 214h1v1h-1zM74 215h1v1h-1zM84 218h1v1h-1zM60 222h1v1h-1zM84 215h1v1h-1zM79 224h1v1h-1zM79 222h1v1h-1zM78 223h1v1h-1zM63 214h1v1h-1zM66 213h1v1h-1zM82 215h1v1h-1zM67 212h1v1h-1zM71 223h1v1h-1zM80 212h1v1h-1zM65 219h1v1h-1zM74 222h1v1h-1zM61 218h1v1h-1zM79 213h1v1h-1zM69 222h1v1h-1zM84 213h1v1h-1zM62 212h1v1h-1zM64 222h1v1h-1zM67 217h1v1h-1zM63 222h1v1h-1zM70 213h1v1h-1zM82 214h1v1h-1zM75 225h1v1h-1zM86 225h1v1h-1zM68 213h1v1h-1zM60 220h1v1h-1zM70 211h1v1h-1zM65 213h1v1h-1zM77 211h1v1h-1zM67 213h1v1h-1zM79 212h1v1h-1zM63 212h1v1h-1zM80 215h1v1h-1zM77 220h1v1h-1zM78 216h1v1h-1zM74 225h1v1h-1zM64 224h1v1h-1zM76 217h1v1h-1zM90 214h1v1h-1zM69 211h1v1h-1zM75 226h1v1h-1zM75 222h1v1h-1zM63 221h1v1h-1zM69 219h1v1h-1zM70 221h1v1h-1zM82 212h1v1h-1zM65 224h1v1h-1zM72 223h1v1h-1zM80 216h1v1h-1zM72 221h1v1h-1zM72 219h1v1h-1zM61 222h1v1h-1zM76 214h1v1h-1zM76 223h1v1h-1zM65 223h1v1h-1zM72 222h1v1h-1zM80 210h1v1h-1zM65 214h1v1h-1zM62 222h1v1h-1zM79 211h1v1h-1zM75 217h1v1h-1zM80 229h1v1h-1zM64 216h1v1h-1zM78 213h1v1h-1zM74 212h1v1h-1zM104 218h1v1h-1zM99 221h1v1h-1zM86 216h1v1h-1zM92 223h1v1h-1zM122 214h1v1h-1zM82 220h1v1h-1zM99 213h1v1h-1zM77 214h1v1h-1zM94 215h1v1h-1zM84 216h1v1h-1zM100 219h1v1h-1zM108 217h1v1h-1zM89 226h1v1h-1zM127 215h1v1h-1zM95 221h1v1h-1zM105 222h1v1h-1zM94 224h1v1h-1zM101 215h1v1h-1zM94 222h1v1h-1zM103 222h1v1h-1zM111 218h1v1h-1zM91 216h1v1h-1zM85 224h1v1h-1zM91 212h1v1h-1zM103 219h1v1h-1zM117 224h1v1h-1zM111 212h1v1h-1zM114 221h1v1h-1zM81 213h1v1h-1zM91 218h1v1h-1zM119 225h1v1h-1zM104 220h1v1h-1zM89 218h1v1h-1zM85 218h1v1h-1zM107 229h1v1h-1zM110 217h1v1h-1zM84 219h1v1h-1zM87 217h1v1h-1zM75 218h1v1h-1zM93 221h1v1h-1zM83 218h1v1h-1zM78 222h1v1h-1zM111 215h1v1h-1zM67 219h1v1h-1zM71 225h1v1h-1zM97 223h1v1h-1zM88 221h1v1h-1zM85 216h1v1h-1zM100 213h1v1h-1zM58 219h1v1h-1zM89 219h1v1h-1zM88 218h1v1h-1zM98 212h1v1h-1zM110 215h1v1h-1zM99 224h1v1h-1zM91 219h1v1h-1zM95 219h1v1h-1zM100 220h1v1h-1zM83 213h1v1h-1zM79 218h1v1h-1zM110 214h1v1h-1zM104 223h1v1h-1zM81 222h1v1h-1zM92 226h1v1h-1zM85 214h1v1h-1zM64 210h1v1h-1zM88 222h1v1h-1zM93 218h1v1h-1zM103 214h1v1h-1zM123 219h1v1h-1zM95 214h1v1h-1zM104 224h1v1h-1zM109 215h1v1h-1zM92 217h1v1h-1zM114 218h1v1h-1zM65 218h1v1h-1zM121 216h1v1h-1zM91 211h1v1h-1zM88 226h1v1h-1zM106 219h1v1h-1zM97 219h1v1h-1zM83 216h1v1h-1zM102 214h1v1h-1zM100 217h1v1h-1zM103 216h1v1h-1zM94 213h1v1h-1zM86 217h1v1h-1zM118 216h1v1h-1zM115 218h1v1h-1zM119 211h1v1h-1zM105 214h1v1h-1zM73 212h1v1h-1zM64 215h1v1h-1zM119 220h1v1h-1zM107 217h1v1h-1zM95 217h1v1h-1zM85 213h1v1h-1zM101 217h1v1h-1zM81 220h1v1h-1zM110 216h1v1h-1zM84 217h1v1h-1zM111 222h1v1h-1zM89 221h1v1h-1zM100 221h1v1h-1zM108 218h1v1h-1zM64 226h1v1h-1zM93 217h1v1h-1zM85 211h1v1h-1zM80 219h1v1h-1zM86 212h1v1h-1zM104 219h1v1h-1zM102 224h1v1h-1zM63 211h1v1h-1zM102 218h1v1h-1zM103 218h1v1h-1zM89 220h1v1h-1zM100 216h1v1h-1zM131 213h1v1h-1zM117 221h1v1h-1zM119 218h1v1h-1zM106 213h1v1h-1zM130 214h1v1h-1zM108 221h1v1h-1zM124 216h1v1h-1zM106 220h1v1h-1zM126 218h1v1h-1zM116 211h1v1h-1zM120 221h1v1h-1zM112 224h1v1h-1zM120 219h1v1h-1zM116 224h1v1h-1zM109 216h1v1h-1zM101 224h1v1h-1zM109 224h1v1h-1zM116 225h1v1h-1zM127 221h1v1h-1zM99 214h1v1h-1zM93 219h1v1h-1zM110 218h1v1h-1zM93 223h1v1h-1zM97 220h1v1h-1zM117 215h1v1h-1zM114 220h1v1h-1zM137 216h1v1h-1zM114 216h1v1h-1zM132 219h1v1h-1zM122 222h1v1h-1zM112 225h1v1h-1zM127 222h1v1h-1zM91 235h1v1h-1zM70 231h1v1h-1zM83 235h1v1h-1zM78 241h1v1h-1zM68 230h1v1h-1zM71 231h1v1h-1zM81 238h1v1h-1zM74 227h1v1h-1zM76 231h1v1h-1zM67 230h1v1h-1zM93 233h1v1h-1zM92 236h1v1h-1zM69 224h1v1h-1zM94 228h1v1h-1zM97 228h1v1h-1zM103 229h1v1h-1zM82 227h1v1h-1zM66 244h1v1h-1zM81 233h1v1h-1zM69 230h1v1h-1zM102 242h1v1h-1zM68 236h1v1h-1zM74 241h1v1h-1zM76 235h1v1h-1zM72 240h1v1h-1zM60 233h1v1h-1zM66 237h1v1h-1zM78 229h1v1h-1zM87 228h1v1h-1zM80 241h1v1h-1zM74 238h1v1h-1zM59 225h1v1h-1zM71 232h1v1h-1zM79 242h1v1h-1zM70 239h1v1h-1zM70 234h1v1h-1zM66 239h1v1h-1zM70 230h1v1h-1zM73 233h1v1h-1zM71 235h1v1h-1zM60 244h1v1h-1zM76 236h1v1h-1zM79 233h1v1h-1zM73 229h1v1h-1zM63 233h1v1h-1zM72 238h1v1h-1zM69 236h1v1h-1zM68 235h1v1h-1zM62 237h1v1h-1zM96 233h1v1h-1zM78 236h1v1h-1zM100 242h1v1h-1zM74 224h1v1h-1zM81 239h1v1h-1zM75 233h1v1h-1zM89 241h1v1h-1zM100 245h1v1h-1zM91 232h1v1h-1zM102 243h1v1h-1zM101 233h1v1h-1zM101 239h1v1h-1zM110 244h1v1h-1zM108 237h1v1h-1zM102 231h1v1h-1zM84 238h1v1h-1zM101 230h1v1h-1zM118 241h1v1h-1zM104 238h1v1h-1zM99 237h1v1h-1zM112 236h1v1h-1zM99 236h1v1h-1zM100 244h1v1h-1zM102 241h1v1h-1zM85 232h1v1h-1zM110 246h1v1h-1zM104 231h1v1h-1zM97 242h1v1h-1zM89 239h1v1h-1zM102 244h1v1h-1zM114 240h1v1h-1zM89 238h1v1h-1zM104 243h1v1h-1zM84 240h1v1h-1zM96 234h1v1h-1zM93 244h1v1h-1zM95 239h1v1h-1zM103 235h1v1h-1zM94 230h1v1h-1zM95 230h1v1h-1zM106 242h1v1h-1zM110 229h1v1h-1zM109 246h1v1h-1zM107 236h1v1h-1zM67 239h1v1h-1zM90 238h1v1h-1zM102 236h1v1h-1zM84 236h1v1h-1zM114 237h1v1h-1zM103 244h1v1h-1zM102 245h1v1h-1zM92 237h1v1h-1zM105 229h1v1h-1zM96 241h1v1h-1zM86 243h1v1h-1zM94 236h1v1h-1zM99 242h1v1h-1zM89 245h1v1h-1zM131 222h1v1h-1zM141 217h1v1h-1zM133 226h1v1h-1zM113 227h1v1h-1zM126 236h1v1h-1zM126 234h1v1h-1zM136 228h1v1h-1zM122 229h1v1h-1z" fill="#222" fill-opacity="0.450" filter="url(#bl)"/>
<path d="M64 213h1v1h-1zM73 219h1v1h-1zM68 215h1v1h-1zM61 215h1v1h-1zM66 216h1v1h-1zM73 221h1v1h-1zM59 216h1v1h-1zM61 219h1v1h-1zM73 217h1v1h-1zM72 216h1v1h-1zM71 213h1v1h-1zM77 224h1v1h-1zM75 215h1v1h-1zM66 220h1v1h-1zM63 216h1v1h-1zM67 218h1v1h-1zM71 219h1v1h-1zM72 215h1v1h-1zM78 221h1v1h-1zM72 218h1v1h-1zM78 210h1v1h-1zM71 217h1v1h-1zM70 215h1v1h-1zM67 214h1v1h-1zM75 219h1v1h-1zM66 219h1v1h-1zM70 218h1v1h-1zM78 219h1v1h-1zM71 220h1v1h-1zM74 213h1v1h-1zM70 214h1v1h-1zM65 217h1v1h-1zM75 223h1v1h-1zM71 215h1v1h-1zM66 214h1v1h-1zM70 216h1v1h-1zM79 223h1v1h-1zM70 222h1v1h-1zM65 220h1v1h-1zM73 214h1v1h-1zM81 219h1v1h-1zM69 218h1v1h-1zM73 216h1v1h-1zM102 221h1v1h-1zM94 218h1v1h-1zM107 218h1v1h-1zM88 219h1v1h-1zM117 220h1v1h-1zM98 217h1v1h-1zM115 221h1v1h-1zM87 221h1v1h-1zM94 223h1v1h-1zM86 218h1v1h-1zM88 213h1v1h-1zM116 219h1v1h-1zM92 218h1v1h-1zM86 214h1v1h-1zM96 221h1v1h-1zM85 220h1v1h-1zM82 218h1v1h-1zM98 220h1v1h-1zM100 222h1v1h-1zM96 218h1v1h-1zM105 219h1v1h-1zM117 218h1v1h-1zM111 221h1v1h-1zM117 222h1v1h-1zM107 215h1v1h-1zM88 236h1v1h-1zM69 232h1v1h-1zM79 229h1v1h-1zM86 231h1v1h-1zM59 231h1v1h-1zM98 240h1v1h-1zM94 244h1v1h-1z" fill="#222" fill-opacity="0.698" filter="url(#bl)"/>
<path d="M62 217h1v1h-1zM75 220h1v1h-1zM74 218h1v1h-1zM64 219h1v1h-1zM64 214h1v1h-1zM76 221h1v1h-1zM73 220h1v1h-1zM67 215h1v1h-1zM76 219h1v1h-1zM76 213h1v1h-1zM68 214h1v1h-1zM74 216h1v1h-1zM67 216h1v1h-1zM63 217h1v1h-1zM67 222h1v1h-1zM74 217h1v1h-1zM69 214h1v1h-1zM69 213h1v1h-1zM82 217h1v1h-1zM75 221h1v1h-1zM99 220h1v1h-1zM105 220h1v1h-1zM83 215h1v1h-1z" fill="#222" fill-opacity="0.834" filter="url(#bl)"/>
<path d="M68 217h1v1h-1zM75 216h1v1h-1zM65 216h1v1h-1zM78 214h1v1h-1zM68 219h1v1h-1zM70 220h1v1h-1zM77 218h1v1h-1zM68 218h1v1h-1zM73 218h1v1h-1zM64 217h1v1h-1zM68 216h1v1h-1zM97 240h1v1h-1z" fill="#222" fill-opacity="0.908" filter="url(#bl)"/>
<line x1="59" y1="211" x2="59" y2="247.5" stroke="#111" stroke-width="1.2"/>
<rect x="83.4" y="227.5" width="33.1" height="20" fill="none" stroke="#444" stroke-width="1" />
<text x="119.9" y="243" font-size="8.3" font-weight="bold" text-anchor="start" fill="#111" >6.25</text>
<line x1="153.85" y1="179.7" x2="270.35" y2="179.7" stroke="#888" stroke-width="1.3"/>
<line x1="269.7" y1="179.7" x2="269.7" y2="265.4" stroke="#222" stroke-width="1.3"/>
<line x1="153.85" y1="265.4" x2="270.35" y2="265.4" stroke="#222" stroke-width="1.3"/>
<line x1="154.5" y1="179.05" x2="154.5" y2="266.05" stroke="#666" stroke-width="1.3"/>
<rect x="179" y="189.3" width="86.2" height="58" fill="none" stroke="#444" stroke-width="1" />
<path d="M197 220h1v1h-1zM188 224h1v1h-1zM193 214h1v1h-1zM187 217h1v1h-1zM179 226h1v1h-1zM187 231h1v1h-1zM192 215h1v1h-1zM185 227h1v1h-1zM191 213h1v1h-1zM188 220h1v1h-1zM200 212h1v1h-1zM182 224h1v1h-1zM195 217h1v1h-1zM195 216h1v1h-1zM188 225h1v1h-1zM190 211h1v1h-1zM187 215h1v1h-1zM185 234h1v1h-1zM197 215h1v1h-1zM192 222h1v1h-1zM193 228h1v1h-1zM199 225h1v1h-1zM183 217h1v1h-1zM184 225h1v1h-1zM189 225h1v1h-1zM190 221h1v1h-1zM190 215h1v1h-1zM198 224h1v1h-1zM195 227h1v1h-1zM183 228h1v1h-1zM202 225h1v1h-1zM184 224h1v1h-1zM187 221h1v1h-1zM183 215h1v1h-1zM197 223h1v1h-1zM184 226h1v1h-1zM194 219h1v1h-1zM188 215h1v1h-1zM185 226h1v1h-1zM188 213h1v1h-1zM189 215h1v1h-1zM182 217h1v1h-1zM184 219h1v1h-1zM183 216h1v1h-1zM181 226h1v1h-1zM193 224h1v1h-1zM188 228h1v1h-1zM189 216h1v1h-1zM179 225h1v1h-1zM186 228h1v1h-1zM191 228h1v1h-1zM190 225h1v1h-1zM192 217h1v1h-1zM194 217h1v1h-1zM189 221h1v1h-1zM180 228h1v1h-1zM181 227h1v1h-1zM180 215h1v1h-1zM191 224h1v1h-1zM200 224h1v1h-1zM189 211h1v1h-1zM192 213h1v1h-1zM180 214h1v1h-1zM190 230h1v1h-1zM199 224h1v1h-1zM193 212h1v1h-1zM187 218h1v1h-1zM185 223h1v1h-1zM183 218h1v1h-1zM186 212h1v1h-1zM181 222h1v1h-1zM185 217h1v1h-1zM194 222h1v1h-1zM180 225h1v1h-1zM191 214h1v1h-1zM186 217h1v1h-1zM191 222h1v1h-1zM193 219h1v1h-1zM185 211h1v1h-1zM187 214h1v1h-1zM190 228h1v1h-1zM194 224h1v1h-1zM184 216h1v1h-1zM180 222h1v1h-1zM198 228h1v1h-1zM196 230h1v1h-1zM188 233h1v1h-1zM182 215h1v1h-1zM190 216h1v1h-1zM192 225h1v1h-1zM192 223h1v1h-1zM182 223h1v1h-1zM194 215h1v1h-1zM180 224h1v1h-1zM189 228h1v1h-1zM189 226h1v1h-1zM200 219h1v1h-1zM193 226h1v1h-1zM186 223h1v1h-1zM196 212h1v1h-1zM186 215h1v1h-1zM214 219h1v1h-1zM211 219h1v1h-1zM201 227h1v1h-1zM203 219h1v1h-1zM213 222h1v1h-1zM222 218h1v1h-1zM196 215h1v1h-1zM217 219h1v1h-1zM208 218h1v1h-1zM203 221h1v1h-1zM206 215h1v1h-1zM219 224h1v1h-1zM206 221h1v1h-1zM220 221h1v1h-1zM211 215h1v1h-1zM197 219h1v1h-1zM229 219h1v1h-1zM202 221h1v1h-1zM198 221h1v1h-1zM211 225h1v1h-1zM225 215h1v1h-1zM204 225h1v1h-1zM235 214h1v1h-1zM179 218h1v1h-1zM200 220h1v1h-1zM201 215h1v1h-1zM257 216h1v1h-1zM209 222h1v1h-1zM229 223h1v1h-1zM222 217h1v1h-1zM211 229h1v1h-1zM227 224h1v1h-1zM207 221h1v1h-1zM207 215h1v1h-1zM209 226h1v1h-1zM212 220h1v1h-1zM200 215h1v1h-1zM203 216h1v1h-1zM214 220h1v1h-1zM207 218h1v1h-1zM190 220h1v1h-1zM209 225h1v1h-1zM208 215h1v1h-1zM193 225h1v1h-1zM192 218h1v1h-1zM195 221h1v1h-1zM242 216h1v1h-1zM204 223h1v1h-1zM201 224h1v1h-1zM217 223h1v1h-1zM199 223h1v1h-1zM223 218h1v1h-1zM189 212h1v1h-1zM216 215h1v1h-1zM196 222h1v1h-1zM211 216h1v1h-1zM199 218h1v1h-1zM206 216h1v1h-1zM213 225h1v1h-1zM196 217h1v1h-1zM202 220h1v1h-1zM205 218h1v1h-1zM193 218h1v1h-1zM228 218h1v1h-1zM198 217h1v1h-1zM215 220h1v1h-1zM207 225h1v1h-1zM221 219h1v1h-1zM233 218h1v1h-1zM201 229h1v1h-1zM236 222h1v1h-1zM223 220h1v1h-1zM234 221h1v1h-1zM200 211h1v1h-1zM222 220h1v1h-1zM195 224h1v1h-1zM193 217h1v1h-1zM218 220h1v1h-1zM180 223h1v1h-1zM213 215h1v1h-1zM196 218h1v1h-1zM207 229h1v1h-1zM208 217h1v1h-1zM200 226h1v1h-1zM209 238h1v1h-1zM207 238h1v1h-1zM228 240h1v1h-1zM208 235h1v1h-1zM213 241h1v1h-1zM218 228h1v1h-1zM223 236h1v1h-1zM211 237h1v1h-1zM226 241h1v1h-1zM227 244h1v1h-1zM241 234h1v1h-1zM218 237h1v1h-1zM232 236h1v1h-1zM210 237h1v1h-1zM215 228h1v1h-1zM214 235h1v1h-1zM216 235h1v1h-1zM212 232h1v1h-1zM215 235h1v1h-1zM216 243h1v1h-1zM219 246h1v1h-1zM231 231h1v1h-1zM222 238h1v1h-1zM220 228h1v1h-1zM224 235h1v1h-1zM213 238h1v1h-1zM232 246h1v1h-1zM228 239h1v1h-1zM220 237h1v1h-1zM218 232h1v1h-1zM217 243h1v1h-1zM231 234h1v1h-1zM214 233h1v1h-1zM228 234h1v1h-1zM226 235h1v1h-1zM209 243h1v1h-1zM221 230h1v1h-1zM212 239h1v1h-1zM205 228h1v1h-1zM223 242h1v1h-1zM216 236h1v1h-1zM221 234h1v1h-1zM217 232h1v1h-1zM217 233h1v1h-1zM207 237h1v1h-1zM206 242h1v1h-1zM223 241h1v1h-1zM212 233h1v1h-1zM218 240h1v1h-1zM224 227h1v1h-1zM234 234h1v1h-1zM212 235h1v1h-1zM224 231h1v1h-1zM236 231h1v1h-1zM220 238h1v1h-1zM231 228h1v1h-1zM199 232h1v1h-1zM205 229h1v1h-1zM225 242h1v1h-1zM227 235h1v1h-1zM229 235h1v1h-1zM219 233h1v1h-1zM213 231h1v1h-1zM215 241h1v1h-1zM237 232h1v1h-1zM236 240h1v1h-1zM210 229h1v1h-1zM215 239h1v1h-1zM209 232h1v1h-1zM210 238h1v1h-1zM224 243h1v1h-1zM217 236h1v1h-1zM226 234h1v1h-1zM216 231h1v1h-1zM226 236h1v1h-1zM223 239h1v1h-1zM227 236h1v1h-1zM221 237h1v1h-1zM214 231h1v1h-1zM227 241h1v1h-1zM210 232h1v1h-1zM214 237h1v1h-1zM208 233h1v1h-1zM219 234h1v1h-1zM205 236h1v1h-1zM209 236h1v1h-1zM200 236h1v1h-1zM214 230h1v1h-1zM215 243h1v1h-1zM231 229h1v1h-1zM228 238h1v1h-1zM230 241h1v1h-1zM222 239h1v1h-1zM215 242h1v1h-1zM224 236h1v1h-1zM227 238h1v1h-1zM207 242h1v1h-1zM225 239h1v1h-1zM222 241h1v1h-1zM209 234h1v1h-1zM220 241h1v1h-1zM208 240h1v1h-1zM226 228h1v1h-1zM219 236h1v1h-1zM225 238h1v1h-1zM229 238h1v1h-1zM233 243h1v1h-1zM216 229h1v1h-1zM211 235h1v1h-1zM209 239h1v1h-1zM227 239h1v1h-1zM202 239h1v1h-1zM214 228h1v1h-1zM225 232h1v1h-1zM208 239h1v1h-1zM226 246h1v1h-1zM190 239h1v1h-1zM196 240h1v1h-1zM187 234h1v1h-1zM193 229h1v1h-1zM179 242h1v1h-1zM207 240h1v1h-1zM192 239h1v1h-1zM200 237h1v1h-1zM201 239h1v1h-1zM182 231h1v1h-1zM205 233h1v1h-1zM184 240h1v1h-1zM195 235h1v1h-1zM194 238h1v1h-1zM194 241h1v1h-1zM185 230h1v1h-1zM185 236h1v1h-1zM197 237h1v1h-1zM185 238h1v1h-1zM185 231h1v1h-1zM190 233h1v1h-1zM195 240h1v1h-1zM189 239h1v1h-1zM194 237h1v1h-1zM205 237h1v1h-1zM193 234h1v1h-1zM193 233h1v1h-1zM193 242h1v1h-1zM189 245h1v1h-1zM181 244h1v1h-1zM195 230h1v1h-1zM185 243h1v1h-1zM198 235h1v1h-1zM183 245h1v1h-1zM192 240h1v1h-1zM191 237h1v1h-1zM193 241h1v1h-1zM189 234h1v1h-1zM186 239h1v1h-1zM193 239h1v1h-1zM188 236h1v1h-1zM191 231h1v1h-1zM193 230h1v1h-1zM243 218h1v1h-1zM244 213h1v1h-1zM235 215h1v1h-1zM262 218h1v1h-1zM237 218h1v1h-1zM240 215h1v1h-1zM233 212h1v1h-1zM250 212h1v1h-1zM235 213h1v1h-1zM247 218h1v1h-1zM241 216h1v1h-1zM236 221h1v1h-1zM246 214h1v1h-1zM237 214h1v1h-1zM232 214h1v1h-1zM242 223h1v1h-1zM230 208h1v1h-1zM232 216h1v1h-1zM245 217h1v1h-1zM225 216h1v1h-1zM245 224h1v1h-1zM236 220h1v1h-1zM241 212h1v1h-1z" fill="#222" fill-opacity="0.450" filter="url(#bl)"/>
<path d="M190 226h1v1h-1zM195 219h1v1h-1zM183 214h1v1h-1zM183 222h1v1h-1zM185 224h1v1h-1zM196 224h1v1h-1zM184 222h1v1h-1zM179 214h1v1h-1zM182 221h1v1h-1zM184 217h1v1h-1zM194 223h1v1h-1zM195 223h1v1h-1zM187 216h1v1h-1zM190 213h1v1h-1zM191 219h1v1h-1zM188 222h1v1h-1zM189 214h1v1h-1zM190 222h1v1h-1zM188 217h1v1h-1zM186 218h1v1h-1zM180 218h1v1h-1zM185 225h1v1h-1zM191 227h1v1h-1zM186 221h1v1h-1zM183 219h1v1h-1zM196 221h1v1h-1zM188 218h1v1h-1zM194 220h1v1h-1zM188 221h1v1h-1zM180 220h1v1h-1zM183 221h1v1h-1zM182 225h1v1h-1zM191 225h1v1h-1zM198 220h1v1h-1zM190 224h1v1h-1zM187 223h1v1h-1zM199 219h1v1h-1zM191 216h1v1h-1zM188 214h1v1h-1zM185 218h1v1h-1zM184 218h1v1h-1zM185 216h1v1h-1zM184 227h1v1h-1zM196 220h1v1h-1zM181 217h1v1h-1zM193 222h1v1h-1zM187 226h1v1h-1zM186 219h1v1h-1zM197 222h1v1h-1zM191 223h1v1h-1zM208 225h1v1h-1zM198 214h1v1h-1zM213 217h1v1h-1zM197 218h1v1h-1zM210 222h1v1h-1zM223 227h1v1h-1zM197 214h1v1h-1zM200 221h1v1h-1zM203 215h1v1h-1zM217 216h1v1h-1zM206 222h1v1h-1zM211 217h1v1h-1zM202 216h1v1h-1zM195 220h1v1h-1zM213 214h1v1h-1zM226 242h1v1h-1zM216 242h1v1h-1zM219 229h1v1h-1zM224 239h1v1h-1zM219 232h1v1h-1zM228 237h1v1h-1zM215 230h1v1h-1zM207 241h1v1h-1zM216 230h1v1h-1zM226 230h1v1h-1zM207 235h1v1h-1zM211 233h1v1h-1zM231 233h1v1h-1zM229 234h1v1h-1zM226 239h1v1h-1zM230 244h1v1h-1zM221 238h1v1h-1zM212 237h1v1h-1zM217 235h1v1h-1zM225 231h1v1h-1zM218 238h1v1h-1zM223 237h1v1h-1zM204 239h1v1h-1zM188 240h1v1h-1zM195 237h1v1h-1zM200 241h1v1h-1zM198 233h1v1h-1zM232 218h1v1h-1z" fill="#222" fill-opacity="0.698" filter="url(#bl)"/>
<path d="M191 220h1v1h-1zM190 217h1v1h-1zM194 218h1v1h-1zM192 219h1v1h-1zM189 217h1v1h-1zM185 222h1v1h-1zM191 217h1v1h-1zM182 219h1v1h-1zM185 220h1v1h-1zM193 216h1v1h-1zM191 218h1v1h-1zM185 219h1v1h-1zM190 223h1v1h-1zM186 222h1v1h-1zM195 218h1v1h-1zM207 214h1v1h-1zM205 220h1v1h-1zM216 217h1v1h-1zM206 218h1v1h-1zM217 234h1v1h-1zM219 237h1v1h-1zM220 233h1v1h-1zM211 239h1v1h-1zM195 239h1v1h-1z" fill="#222" fill-opacity="0.834" filter="url(#bl)"/>
<path d="M189 220h1v1h-1zM189 219h1v1h-1zM186 224h1v1h-1zM190 218h1v1h-1zM187 219h1v1h-1zM187 222h1v1h-1zM189 223h1v1h-1zM183 220h1v1h-1zM185 221h1v1h-1zM192 221h1v1h-1zM184 220h1v1h-1zM184 221h1v1h-1zM222 236h1v1h-1z" fill="#222" fill-opacity="0.908" filter="url(#bl)"/>
<line x1="179.6" y1="213" x2="179.6" y2="247.3" stroke="#111" stroke-width="1.2"/>
<rect x="204.5" y="227.4" width="34.2" height="19.9" fill="none" stroke="#444" stroke-width="1" />
<text x="241.7" y="243" font-size="8.3" font-weight="bold" text-anchor="start" fill="#111" >16.54</text>
<text x="25" y="195.5" font-size="10.1" font-weight="bold" text-anchor="middle" fill="#111" transform="rotate(-90 25 195.5)" >CD41/CD48</text>
<line x1="21.6" y1="236.3" x2="21.6" y2="275.5" stroke="#222" stroke-width="1"/>
<line x1="21.1" y1="275" x2="59.5" y2="275" stroke="#222" stroke-width="1"/>
<path d="M21.6 232.3 L18.5 238.5 L24.7 238.5 Z" fill="#222"/>
<path d="M63.5 275 L57.3 271.9 L57.3 278.1 Z" fill="#222"/>
<text x="74.4" y="279.2" font-size="10.1" font-weight="bold" text-anchor="start" fill="#111" >CD150</text>
<text x="82.6" y="295.8" font-size="12.1" font-weight="bold" text-anchor="middle" fill="#111" >ctrl</text>
<text x="165.6" y="296.3" font-size="12.1" font-weight="bold" text-anchor="start" fill="#111" >Musk-L;Agrn<tspan font-size="70%" baseline-shift="45%">-/-</tspan></text>
<rect x="33.2" y="298.8" width="115.3" height="86.6" fill="none" stroke="#8a8a8a" stroke-width="1.2" />
<rect x="51.5" y="308.3" width="94.2" height="58.7" fill="none" stroke="#777" stroke-width="1" />
<path d="M75 334h1v1h-1zM81 346h1v1h-1zM86 343h1v1h-1zM98 341h1v1h-1zM82 334h1v1h-1zM57 342h1v1h-1zM74 344h1v1h-1zM69 343h1v1h-1zM63 341h1v1h-1zM64 344h1v1h-1zM86 341h1v1h-1zM74 341h1v1h-1zM71 340h1v1h-1zM98 337h1v1h-1zM91 347h1v1h-1zM64 339h1v1h-1zM82 337h1v1h-1zM88 336h1v1h-1zM81 344h1v1h-1zM68 335h1v1h-1zM72 334h1v1h-1zM70 346h1v1h-1zM83 332h1v1h-1zM89 345h1v1h-1zM70 340h1v1h-1zM88 348h1v1h-1zM81 331h1v1h-1zM86 334h1v1h-1zM93 344h1v1h-1zM102 340h1v1h-1zM90 345h1v1h-1zM84 340h1v1h-1zM80 337h1v1h-1zM84 337h1v1h-1zM78 333h1v1h-1zM85 332h1v1h-1zM67 337h1v1h-1zM70 339h1v1h-1zM74 346h1v1h-1zM84 338h1v1h-1zM62 333h1v1h-1zM85 341h1v1h-1zM71 338h1v1h-1zM77 347h1v1h-1zM89 342h1v1h-1zM88 343h1v1h-1zM99 346h1v1h-1zM81 335h1v1h-1zM83 338h1v1h-1zM82 341h1v1h-1zM73 348h1v1h-1zM55 346h1v1h-1zM80 336h1v1h-1zM59 339h1v1h-1zM102 337h1v1h-1zM66 342h1v1h-1zM88 342h1v1h-1zM64 337h1v1h-1zM68 336h1v1h-1zM59 341h1v1h-1zM98 339h1v1h-1zM96 336h1v1h-1zM98 338h1v1h-1zM81 339h1v1h-1zM77 340h1v1h-1zM79 339h1v1h-1zM96 345h1v1h-1zM59 340h1v1h-1zM103 343h1v1h-1zM67 338h1v1h-1zM69 349h1v1h-1zM84 343h1v1h-1zM78 343h1v1h-1zM105 344h1v1h-1zM81 349h1v1h-1zM91 345h1v1h-1zM87 337h1v1h-1zM99 341h1v1h-1zM100 338h1v1h-1zM96 339h1v1h-1zM69 338h1v1h-1zM90 341h1v1h-1zM80 335h1v1h-1zM95 340h1v1h-1zM79 336h1v1h-1zM83 337h1v1h-1zM75 347h1v1h-1zM78 352h1v1h-1zM72 339h1v1h-1zM85 343h1v1h-1zM100 335h1v1h-1zM96 340h1v1h-1zM63 340h1v1h-1zM75 336h1v1h-1zM72 330h1v1h-1zM76 343h1v1h-1zM61 334h1v1h-1zM96 338h1v1h-1zM67 345h1v1h-1zM72 338h1v1h-1zM61 339h1v1h-1zM90 342h1v1h-1zM67 344h1v1h-1zM74 338h1v1h-1zM71 335h1v1h-1zM97 347h1v1h-1zM60 333h1v1h-1zM87 338h1v1h-1zM105 341h1v1h-1zM78 339h1v1h-1zM75 339h1v1h-1zM89 338h1v1h-1zM88 341h1v1h-1zM82 342h1v1h-1zM69 344h1v1h-1zM91 333h1v1h-1zM101 337h1v1h-1zM99 343h1v1h-1zM75 338h1v1h-1zM64 345h1v1h-1zM87 342h1v1h-1zM86 330h1v1h-1zM72 343h1v1h-1zM84 339h1v1h-1zM70 343h1v1h-1zM84 341h1v1h-1zM64 343h1v1h-1zM102 334h1v1h-1zM84 345h1v1h-1zM95 341h1v1h-1zM112 337h1v1h-1zM67 332h1v1h-1zM81 341h1v1h-1zM81 333h1v1h-1zM76 341h1v1h-1zM83 339h1v1h-1zM79 335h1v1h-1zM92 344h1v1h-1zM92 338h1v1h-1zM86 344h1v1h-1zM54 345h1v1h-1zM69 345h1v1h-1zM57 336h1v1h-1zM82 345h1v1h-1zM76 334h1v1h-1zM110 334h1v1h-1zM64 338h1v1h-1zM78 336h1v1h-1zM65 341h1v1h-1zM59 337h1v1h-1zM82 331h1v1h-1zM108 339h1v1h-1zM98 340h1v1h-1zM80 342h1v1h-1zM75 343h1v1h-1zM62 337h1v1h-1zM58 333h1v1h-1zM102 338h1v1h-1zM83 343h1v1h-1zM98 342h1v1h-1zM82 347h1v1h-1zM97 339h1v1h-1zM98 343h1v1h-1zM92 335h1v1h-1zM74 334h1v1h-1zM86 338h1v1h-1zM96 337h1v1h-1zM90 335h1v1h-1zM65 335h1v1h-1zM88 338h1v1h-1zM92 346h1v1h-1zM90 336h1v1h-1zM62 341h1v1h-1zM92 334h1v1h-1zM89 340h1v1h-1zM84 335h1v1h-1zM69 347h1v1h-1zM101 340h1v1h-1zM92 337h1v1h-1zM53 333h1v1h-1zM91 338h1v1h-1zM94 337h1v1h-1zM53 342h1v1h-1zM96 331h1v1h-1zM62 335h1v1h-1zM91 339h1v1h-1zM61 346h1v1h-1zM85 338h1v1h-1zM103 342h1v1h-1zM103 337h1v1h-1zM87 332h1v1h-1zM68 339h1v1h-1zM73 346h1v1h-1zM89 337h1v1h-1zM72 340h1v1h-1zM84 336h1v1h-1zM66 343h1v1h-1zM75 335h1v1h-1zM77 336h1v1h-1zM77 344h1v1h-1zM55 340h1v1h-1zM93 349h1v1h-1zM72 346h1v1h-1zM70 338h1v1h-1zM91 336h1v1h-1zM99 340h1v1h-1zM94 334h1v1h-1zM87 336h1v1h-1zM65 344h1v1h-1zM89 339h1v1h-1zM80 339h1v1h-1zM73 333h1v1h-1zM93 343h1v1h-1zM91 330h1v1h-1zM83 340h1v1h-1zM90 344h1v1h-1zM93 345h1v1h-1zM92 341h1v1h-1zM90 337h1v1h-1zM63 334h1v1h-1zM89 344h1v1h-1zM72 344h1v1h-1zM67 354h1v1h-1zM65 340h1v1h-1zM83 358h1v1h-1zM59 359h1v1h-1zM66 344h1v1h-1zM61 354h1v1h-1zM87 358h1v1h-1zM58 352h1v1h-1zM64 359h1v1h-1zM81 355h1v1h-1zM77 361h1v1h-1zM95 355h1v1h-1zM92 352h1v1h-1zM80 357h1v1h-1zM81 359h1v1h-1zM57 355h1v1h-1zM66 350h1v1h-1zM73 351h1v1h-1zM61 350h1v1h-1zM85 353h1v1h-1zM79 353h1v1h-1zM71 355h1v1h-1zM72 364h1v1h-1zM77 362h1v1h-1zM68 350h1v1h-1zM72 356h1v1h-1zM58 351h1v1h-1zM81 353h1v1h-1zM84 352h1v1h-1zM78 349h1v1h-1zM94 355h1v1h-1zM76 361h1v1h-1zM62 347h1v1h-1zM64 357h1v1h-1zM81 351h1v1h-1zM85 355h1v1h-1zM82 348h1v1h-1zM76 353h1v1h-1zM60 337h1v1h-1zM68 355h1v1h-1zM57 352h1v1h-1zM77 365h1v1h-1zM73 365h1v1h-1zM57 365h1v1h-1zM64 364h1v1h-1zM95 365h1v1h-1zM91 366h1v1h-1zM76 366h1v1h-1zM61 366h1v1h-1zM92 365h1v1h-1zM60 366h1v1h-1zM76 365h1v1h-1zM69 364h1v1h-1zM63 366h1v1h-1zM76 364h1v1h-1zM69 365h1v1h-1zM56 365h1v1h-1zM70 365h1v1h-1zM54 366h1v1h-1zM80 365h1v1h-1zM75 365h1v1h-1zM84 365h1v1h-1z" fill="#333" fill-opacity="0.450" filter="url(#bl)"/>
<path d="M80 343h1v1h-1zM91 342h1v1h-1zM92 340h1v1h-1zM77 339h1v1h-1zM87 340h1v1h-1zM88 345h1v1h-1zM79 340h1v1h-1zM90 339h1v1h-1zM82 335h1v1h-1zM73 344h1v1h-1zM60 338h1v1h-1zM72 333h1v1h-1zM73 339h1v1h-1zM83 334h1v1h-1zM69 340h1v1h-1zM81 337h1v1h-1zM80 338h1v1h-1zM77 337h1v1h-1zM65 342h1v1h-1zM75 342h1v1h-1zM74 345h1v1h-1zM74 339h1v1h-1zM97 338h1v1h-1zM73 338h1v1h-1zM83 331h1v1h-1zM71 336h1v1h-1zM91 341h1v1h-1zM82 338h1v1h-1zM65 337h1v1h-1zM89 341h1v1h-1zM76 340h1v1h-1zM69 341h1v1h-1zM95 339h1v1h-1zM76 339h1v1h-1zM77 342h1v1h-1zM81 340h1v1h-1zM73 337h1v1h-1zM71 343h1v1h-1zM88 340h1v1h-1zM86 342h1v1h-1zM76 338h1v1h-1zM59 335h1v1h-1zM80 341h1v1h-1zM69 342h1v1h-1zM61 341h1v1h-1zM86 337h1v1h-1zM66 340h1v1h-1zM79 338h1v1h-1zM68 341h1v1h-1zM90 343h1v1h-1zM68 340h1v1h-1zM95 343h1v1h-1zM82 340h1v1h-1zM66 341h1v1h-1zM91 337h1v1h-1zM79 344h1v1h-1zM92 339h1v1h-1zM85 339h1v1h-1zM85 340h1v1h-1zM94 339h1v1h-1zM94 342h1v1h-1zM83 352h1v1h-1zM66 355h1v1h-1zM64 365h1v1h-1zM64 366h1v1h-1zM58 365h1v1h-1z" fill="#333" fill-opacity="0.698" filter="url(#bl)"/>
<path d="M85 342h1v1h-1zM67 340h1v1h-1zM79 337h1v1h-1zM73 342h1v1h-1zM85 337h1v1h-1zM76 336h1v1h-1zM82 339h1v1h-1zM78 337h1v1h-1zM70 336h1v1h-1zM92 347h1v1h-1zM78 341h1v1h-1zM78 344h1v1h-1zM78 338h1v1h-1zM87 339h1v1h-1zM71 337h1v1h-1zM66 338h1v1h-1zM95 337h1v1h-1zM81 343h1v1h-1zM71 348h1v1h-1zM77 343h1v1h-1zM63 335h1v1h-1zM79 343h1v1h-1zM94 341h1v1h-1zM72 342h1v1h-1zM74 343h1v1h-1zM72 365h1v1h-1z" fill="#333" fill-opacity="0.834" filter="url(#bl)"/>
<path d="M74 337h1v1h-1zM70 342h1v1h-1zM88 339h1v1h-1zM75 340h1v1h-1zM86 339h1v1h-1zM80 340h1v1h-1zM71 341h1v1h-1zM95 338h1v1h-1zM90 340h1v1h-1z" fill="#333" fill-opacity="0.908" filter="url(#bl)"/>
<rect x="52.2" y="326" width="70.2" height="23.4" fill="none" stroke="#333" stroke-width="1.3" />
<line x1="87.4" y1="326" x2="87.4" y2="349.4" stroke="#333" stroke-width="1.3"/>
<text x="70.4" y="325.1" font-size="8.3" font-weight="bold" text-anchor="middle" fill="#111" >35.8</text>
<text x="105" y="325.1" font-size="8.3" font-weight="bold" text-anchor="middle" fill="#111" >48.8</text>
<rect x="154.8" y="299.7" width="114.4" height="86.1" fill="none" stroke="#8a8a8a" stroke-width="1.2" />
<rect x="172.8" y="309.6" width="93.2" height="58.7" fill="none" stroke="#777" stroke-width="1" />
<path d="M185 344h1v1h-1zM196 341h1v1h-1zM197 334h1v1h-1zM202 337h1v1h-1zM177 351h1v1h-1zM205 343h1v1h-1zM196 344h1v1h-1zM183 332h1v1h-1zM197 343h1v1h-1zM227 335h1v1h-1zM226 338h1v1h-1zM219 336h1v1h-1zM193 339h1v1h-1zM191 338h1v1h-1zM218 335h1v1h-1zM199 348h1v1h-1zM196 340h1v1h-1zM189 345h1v1h-1zM181 339h1v1h-1zM224 340h1v1h-1zM222 341h1v1h-1zM203 339h1v1h-1zM208 346h1v1h-1zM219 337h1v1h-1zM195 339h1v1h-1zM235 343h1v1h-1zM193 335h1v1h-1zM175 341h1v1h-1zM212 339h1v1h-1zM203 341h1v1h-1zM217 332h1v1h-1zM176 335h1v1h-1zM201 340h1v1h-1zM186 346h1v1h-1zM182 337h1v1h-1zM196 336h1v1h-1zM209 345h1v1h-1zM219 343h1v1h-1zM226 339h1v1h-1zM209 342h1v1h-1zM209 336h1v1h-1zM220 334h1v1h-1zM210 333h1v1h-1zM211 342h1v1h-1zM190 334h1v1h-1zM201 332h1v1h-1zM202 340h1v1h-1zM196 337h1v1h-1zM209 337h1v1h-1zM206 341h1v1h-1zM177 349h1v1h-1zM193 342h1v1h-1zM222 345h1v1h-1zM190 336h1v1h-1zM197 344h1v1h-1zM187 338h1v1h-1zM206 344h1v1h-1zM174 341h1v1h-1zM210 334h1v1h-1zM193 338h1v1h-1zM214 339h1v1h-1zM214 333h1v1h-1zM174 343h1v1h-1zM216 336h1v1h-1zM192 335h1v1h-1zM186 339h1v1h-1zM180 343h1v1h-1zM202 335h1v1h-1zM182 340h1v1h-1zM214 340h1v1h-1zM203 343h1v1h-1zM210 339h1v1h-1zM212 341h1v1h-1zM243 344h1v1h-1zM198 344h1v1h-1zM220 343h1v1h-1zM211 343h1v1h-1zM177 342h1v1h-1zM191 336h1v1h-1zM247 340h1v1h-1zM206 342h1v1h-1zM213 336h1v1h-1zM234 347h1v1h-1zM180 335h1v1h-1zM187 339h1v1h-1zM186 336h1v1h-1zM187 340h1v1h-1zM194 336h1v1h-1zM192 345h1v1h-1zM233 337h1v1h-1zM207 347h1v1h-1zM200 342h1v1h-1zM231 347h1v1h-1zM216 331h1v1h-1zM182 334h1v1h-1zM196 339h1v1h-1zM185 346h1v1h-1zM187 335h1v1h-1zM202 343h1v1h-1zM183 347h1v1h-1zM179 333h1v1h-1zM209 339h1v1h-1zM197 342h1v1h-1zM185 343h1v1h-1zM236 344h1v1h-1zM210 336h1v1h-1zM198 339h1v1h-1zM196 345h1v1h-1zM201 346h1v1h-1zM214 338h1v1h-1zM212 337h1v1h-1zM205 342h1v1h-1zM188 342h1v1h-1zM178 342h1v1h-1zM192 340h1v1h-1zM200 351h1v1h-1zM206 345h1v1h-1zM215 343h1v1h-1zM193 344h1v1h-1zM190 351h1v1h-1zM216 337h1v1h-1zM219 338h1v1h-1zM205 341h1v1h-1zM174 340h1v1h-1zM203 334h1v1h-1zM195 343h1v1h-1zM185 340h1v1h-1zM200 331h1v1h-1zM215 346h1v1h-1zM185 334h1v1h-1zM220 337h1v1h-1zM201 343h1v1h-1zM216 338h1v1h-1zM205 332h1v1h-1zM217 339h1v1h-1zM182 343h1v1h-1zM182 338h1v1h-1zM189 347h1v1h-1zM177 340h1v1h-1zM190 342h1v1h-1zM201 341h1v1h-1zM215 337h1v1h-1zM207 339h1v1h-1zM178 340h1v1h-1zM220 345h1v1h-1zM212 338h1v1h-1zM187 336h1v1h-1zM201 336h1v1h-1zM198 335h1v1h-1zM199 345h1v1h-1zM207 338h1v1h-1zM196 332h1v1h-1zM220 327h1v1h-1zM218 340h1v1h-1zM198 341h1v1h-1zM203 347h1v1h-1zM238 342h1v1h-1zM219 346h1v1h-1zM196 333h1v1h-1zM185 335h1v1h-1zM194 343h1v1h-1zM218 337h1v1h-1zM202 336h1v1h-1zM201 347h1v1h-1zM179 336h1v1h-1zM207 350h1v1h-1zM187 341h1v1h-1zM194 344h1v1h-1zM188 343h1v1h-1zM192 333h1v1h-1zM207 332h1v1h-1zM206 347h1v1h-1zM199 338h1v1h-1zM228 342h1v1h-1zM177 336h1v1h-1zM217 346h1v1h-1zM202 334h1v1h-1zM194 345h1v1h-1zM198 346h1v1h-1zM180 344h1v1h-1zM212 347h1v1h-1zM216 343h1v1h-1zM181 337h1v1h-1zM205 344h1v1h-1zM203 335h1v1h-1zM224 342h1v1h-1zM219 342h1v1h-1zM232 340h1v1h-1zM184 338h1v1h-1zM204 346h1v1h-1zM215 340h1v1h-1zM219 339h1v1h-1zM194 340h1v1h-1zM183 340h1v1h-1zM213 345h1v1h-1zM199 333h1v1h-1zM195 340h1v1h-1zM222 333h1v1h-1zM195 335h1v1h-1zM220 344h1v1h-1zM204 342h1v1h-1zM195 334h1v1h-1zM193 347h1v1h-1zM205 336h1v1h-1zM202 344h1v1h-1zM199 344h1v1h-1zM224 343h1v1h-1zM197 340h1v1h-1zM203 330h1v1h-1zM207 333h1v1h-1zM180 339h1v1h-1zM187 343h1v1h-1zM212 336h1v1h-1zM218 339h1v1h-1zM203 346h1v1h-1zM201 342h1v1h-1zM181 338h1v1h-1zM193 336h1v1h-1zM213 341h1v1h-1zM223 344h1v1h-1zM206 340h1v1h-1zM191 337h1v1h-1zM179 335h1v1h-1zM183 345h1v1h-1zM197 331h1v1h-1zM199 332h1v1h-1zM207 341h1v1h-1zM189 335h1v1h-1zM213 343h1v1h-1zM206 343h1v1h-1zM180 342h1v1h-1zM211 338h1v1h-1zM206 338h1v1h-1zM189 343h1v1h-1zM204 340h1v1h-1zM204 343h1v1h-1zM199 336h1v1h-1zM200 346h1v1h-1zM206 354h1v1h-1zM211 358h1v1h-1zM208 357h1v1h-1zM203 363h1v1h-1zM198 350h1v1h-1zM184 356h1v1h-1zM202 351h1v1h-1zM197 364h1v1h-1zM197 367h1v1h-1zM224 355h1v1h-1zM182 359h1v1h-1zM201 364h1v1h-1zM212 354h1v1h-1zM210 350h1v1h-1zM213 362h1v1h-1zM188 359h1v1h-1zM191 355h1v1h-1zM206 365h1v1h-1zM197 357h1v1h-1zM217 345h1v1h-1zM203 358h1v1h-1zM202 356h1v1h-1zM198 356h1v1h-1zM201 355h1v1h-1zM194 359h1v1h-1zM200 358h1v1h-1zM195 348h1v1h-1zM203 357h1v1h-1zM186 354h1v1h-1zM185 364h1v1h-1zM203 349h1v1h-1zM191 350h1v1h-1zM198 351h1v1h-1zM190 352h1v1h-1zM221 352h1v1h-1zM185 356h1v1h-1zM217 363h1v1h-1zM192 348h1v1h-1zM205 347h1v1h-1zM198 345h1v1h-1zM197 363h1v1h-1zM210 364h1v1h-1zM197 346h1v1h-1zM191 357h1v1h-1zM221 363h1v1h-1zM214 362h1v1h-1zM202 357h1v1h-1zM204 367h1v1h-1zM189 366h1v1h-1zM196 367h1v1h-1zM182 366h1v1h-1zM190 367h1v1h-1zM177 367h1v1h-1zM196 366h1v1h-1zM180 366h1v1h-1zM221 367h1v1h-1zM182 367h1v1h-1zM185 367h1v1h-1zM192 367h1v1h-1zM180 367h1v1h-1zM203 366h1v1h-1zM181 367h1v1h-1zM218 366h1v1h-1zM208 366h1v1h-1zM206 367h1v1h-1zM188 367h1v1h-1zM217 367h1v1h-1zM192 366h1v1h-1z" fill="#333" fill-opacity="0.450" filter="url(#bl)"/>
<path d="M208 336h1v1h-1zM195 342h1v1h-1zM203 338h1v1h-1zM186 343h1v1h-1zM197 341h1v1h-1zM184 340h1v1h-1zM199 337h1v1h-1zM190 344h1v1h-1zM206 337h1v1h-1zM214 345h1v1h-1zM193 340h1v1h-1zM202 338h1v1h-1zM205 339h1v1h-1zM180 340h1v1h-1zM212 344h1v1h-1zM190 341h1v1h-1zM202 342h1v1h-1zM199 341h1v1h-1zM197 337h1v1h-1zM198 340h1v1h-1zM192 342h1v1h-1zM218 338h1v1h-1zM209 335h1v1h-1zM215 344h1v1h-1zM207 337h1v1h-1zM196 343h1v1h-1zM184 341h1v1h-1zM199 334h1v1h-1zM200 347h1v1h-1zM218 341h1v1h-1zM189 342h1v1h-1zM195 345h1v1h-1zM193 337h1v1h-1zM208 342h1v1h-1zM200 337h1v1h-1zM192 341h1v1h-1zM204 339h1v1h-1zM209 343h1v1h-1zM208 343h1v1h-1zM207 334h1v1h-1zM191 346h1v1h-1zM211 344h1v1h-1zM200 341h1v1h-1zM188 339h1v1h-1zM204 337h1v1h-1zM186 345h1v1h-1zM220 338h1v1h-1zM189 341h1v1h-1zM203 340h1v1h-1zM199 339h1v1h-1zM198 342h1v1h-1zM191 341h1v1h-1zM210 341h1v1h-1zM198 336h1v1h-1zM199 342h1v1h-1zM206 339h1v1h-1zM211 337h1v1h-1zM212 340h1v1h-1zM198 338h1v1h-1zM199 346h1v1h-1zM191 340h1v1h-1zM209 347h1v1h-1zM200 366h1v1h-1zM209 366h1v1h-1zM193 367h1v1h-1z" fill="#333" fill-opacity="0.698" filter="url(#bl)"/>
<path d="M210 337h1v1h-1zM216 340h1v1h-1zM198 337h1v1h-1zM196 342h1v1h-1zM216 341h1v1h-1zM195 338h1v1h-1zM179 343h1v1h-1zM192 344h1v1h-1zM204 344h1v1h-1zM210 342h1v1h-1zM221 339h1v1h-1zM198 343h1v1h-1zM200 343h1v1h-1zM195 341h1v1h-1zM205 340h1v1h-1z" fill="#333" fill-opacity="0.834" filter="url(#bl)"/>
<path d="M202 341h1v1h-1zM200 339h1v1h-1zM205 338h1v1h-1zM185 342h1v1h-1zM197 339h1v1h-1zM208 341h1v1h-1zM214 341h1v1h-1zM204 338h1v1h-1zM183 342h1v1h-1zM201 339h1v1h-1z" fill="#333" fill-opacity="0.908" filter="url(#bl)"/>
<rect x="173.4" y="326.3" width="69.7" height="23.2" fill="none" stroke="#333" stroke-width="1.3" />
<line x1="208.7" y1="326.3" x2="208.7" y2="349.5" stroke="#333" stroke-width="1.3"/>
<text x="191.7" y="325.3" font-size="8.3" font-weight="bold" text-anchor="middle" fill="#111" >26.6</text>
<text x="226.1" y="325.3" font-size="8.3" font-weight="bold" text-anchor="middle" fill="#111" >46.4</text>
<text x="23.2" y="333" font-size="10.1" font-weight="bold" text-anchor="middle" fill="#111" transform="rotate(-90 23.2 333)" >CD34</text>
<line x1="20.2" y1="359" x2="20.2" y2="398.9" stroke="#222" stroke-width="1"/>
<line x1="19.7" y1="398.4" x2="58" y2="398.4" stroke="#222" stroke-width="1"/>
<path d="M20.2 355 L17.1 361.2 L23.3 361.2 Z" fill="#222"/>
<path d="M62 398.4 L55.8 395.3 L55.8 401.5 Z" fill="#222"/>
<text x="72.7" y="402.6" font-size="10.1" font-weight="bold" text-anchor="start" fill="#111" >CD135</text>
<text x="346.9" y="176.9" font-size="12.1" font-weight="bold" text-anchor="middle" fill="#111" >ctrl</text>
<defs><radialGradient id="pg1" gradientUnits="userSpaceOnUse" cx="345" cy="232.7" r="33"><stop offset="0" stop-color="#8e8e8e"/><stop offset="1" stop-color="#5a5a5a"/></radialGradient><radialGradient id="pb1" gradientUnits="userSpaceOnUse" cx="345" cy="232.7" r="33"><stop offset="0" stop-color="#3a3a3a"/><stop offset="1" stop-color="#161616"/></radialGradient></defs>
<path d="M345 232.7 L345 199.7 A33 33 0 0 1 359.98 203.3 Z" fill="url(#pb1)" stroke="#111" stroke-width="1"/>
<path d="M345 232.7 L359.98 203.3 A33 33 0 0 1 352.14 264.92 Z" fill="url(#pg1)" stroke="#111" stroke-width="1"/>
<path d="M345 232.7 L352.14 264.92 A33 33 0 1 1 345 199.7 Z" fill="#fff" stroke="#111" stroke-width="1"/>
<circle cx="345" cy="232.7" r="33" fill="none" stroke="#111" stroke-width="1.3"/>
<text x="352" y="197.8" font-size="8.3" font-weight="bold" text-anchor="start" fill="#111" >6.9±1.0</text>
<text x="284" y="215" font-size="8.3" font-weight="bold" text-anchor="start" fill="#111" >50.4±2.9</text>
<text x="372.7" y="262" font-size="8.3" font-weight="bold" text-anchor="start" fill="#111" >36.5±1.5</text>
<rect x="388.6" y="168.5" width="9.2" height="5.1" fill="#bbb" stroke="#444" stroke-width="1" />
<rect x="388.6" y="182.4" width="9.2" height="5" fill="#1a1a1a" stroke="#111" stroke-width="1" />
<rect x="388.6" y="196.5" width="9.2" height="5.1" fill="#fff" stroke="#555" stroke-width="1" />
<text x="402.9" y="175.2" font-size="9.1" font-weight="bold" text-anchor="start" fill="#111" >CD34<tspan font-size="65%" baseline-shift="45%">+</tspan>CD135<tspan font-size="65%" baseline-shift="45%">-</tspan><tspan> LSK cells</tspan></text>
<text x="402.9" y="188.7" font-size="9.1" font-weight="bold" text-anchor="start" fill="#111" >CD150<tspan font-size="65%" baseline-shift="45%">+</tspan><tspan>CD41/48</tspan><tspan font-size="65%" baseline-shift="45%">-</tspan><tspan>  LSK cells</tspan></text>
<text x="402.9" y="202.1" font-size="9.1" font-weight="bold" text-anchor="start" fill="#111" >CD34<tspan font-size="65%" baseline-shift="45%">+</tspan><tspan>CD135</tspan><tspan font-size="65%" baseline-shift="45%">+</tspan><tspan> LSK cells</tspan></text>
<text x="307.5" y="297.2" font-size="12.1" font-weight="bold" text-anchor="start" fill="#111" >Musk-L;Agrn<tspan font-size="70%" baseline-shift="45%">-/-</tspan></text>
<defs><radialGradient id="pg2" gradientUnits="userSpaceOnUse" cx="347.4" cy="352" r="33.3"><stop offset="0" stop-color="#8e8e8e"/><stop offset="1" stop-color="#5a5a5a"/></radialGradient><radialGradient id="pb2" gradientUnits="userSpaceOnUse" cx="347.4" cy="352" r="33.3"><stop offset="0" stop-color="#3a3a3a"/><stop offset="1" stop-color="#161616"/></radialGradient></defs>
<path d="M347.4 352 L347.4 318.7 A33.3 33.3 0 0 1 377.33 337.4 Z" fill="url(#pb2)" stroke="#111" stroke-width="1"/>
<path d="M347.4 352 L377.33 337.4 A33.3 33.3 0 0 1 347.4 385.3 Z" fill="url(#pg2)" stroke="#111" stroke-width="1"/>
<path d="M347.4 352 L347.4 385.3 A33.3 33.3 0 0 1 347.4 318.7 Z" fill="#fff" stroke="#111" stroke-width="1"/>
<circle cx="347.4" cy="352" r="33.3" fill="none" stroke="#111" stroke-width="1.3"/>
<text x="356.5" y="319.4" font-size="8.3" font-weight="bold" text-anchor="start" fill="#111" >15±2.7</text>
<text x="283" y="336.8" font-size="8.3" font-weight="bold" text-anchor="start" fill="#111" >43.4±3.0</text>
<text x="373" y="383.8" font-size="8.3" font-weight="bold" text-anchor="start" fill="#111" >27.5±3.3</text>
<text x="6.2" y="430" font-size="17.5" font-weight="bold" text-anchor="start" fill="#111" >C</text>
<text x="88.4" y="441.7" font-size="12.1" font-weight="bold" text-anchor="middle" fill="#111" >ctrl</text>
<text x="170.3" y="441.5" font-size="12.1" font-weight="bold" text-anchor="start" fill="#111" >Musk-L;Agrn<tspan font-size="70%" baseline-shift="45%">-/-</tspan></text>
<rect x="35.6" y="448.4" width="114.6" height="85.8" fill="none" stroke="#777" stroke-width="1.3" />
<rect x="61.9" y="458.3" width="84.3" height="56.8" fill="none" stroke="#555" stroke-width="1" />
<line x1="62.2" y1="458.3" x2="62.2" y2="515.1" stroke="#111" stroke-width="1.4"/>
<path d="M62.5 515 L63.38 514.5 L64.25 513.54 L65.12 514.05 L66 513 L66.8 513.29 L67.6 514.59 L68.4 513.29 L69.2 512.87 L70 514 L70.78 512.09 L71.56 513.54 L72.34 512.45 L73.12 514.23 L73.9 513.4 L74.68 514.79 L75.45 507.95 L76.22 508.39 L77 510 L77.8 510.62 L78.6 512.7 L79.4 509.9 L80.2 509.57 L81 508.1 L81.9 506.7 L82.8 503.91 L83.7 499.2 L84.6 502.63 L85.5 497 L86.35 495.54 L87.2 490.4 L88.1 486.06 L89 487.7 L89.75 484.36 L90.5 483 L91.6 478 L92.25 476.14 L92.9 472.7 L93.6 475.23 L94.3 481.5 L95.15 481.97 L96 483.3 L96.75 480.52 L97.5 480 L98.1 479.17 L98.7 481.5 L99.6 492.41 L100.5 499.2 L101.37 501.96 L102.23 503.66 L103.1 509.8 L104 509.75 L104.9 512.41 L105.8 513.4 L106.65 514.2 L107.5 515 L108.3 515 L109.09 515 L109.89 515 L110.69 515 L111.48 515 L112.28 515 L113.07 515 L113.87 515 L114.67 515 L115.46 515 L116.26 515 L117.06 515 L117.85 515 L118.65 515 L119.44 515 L120.24 515 L121.04 515 L121.83 515 L122.63 515 L123.43 515 L124.22 515 L125.02 515 L125.81 515 L126.61 515 L127.41 515 L128.2 515 L129 515 L130 515 L131 512.5 L131.75 512.15 L132.5 510.5 L133.25 514.28 L134 512 L135 514.17 L136 515 Z" fill="#666" stroke="#111" stroke-width="0.7" stroke-linejoin="miter"/>
<line x1="109.3" y1="487.7" x2="144.7" y2="487.7" stroke="#555" stroke-width="1"/>
<line x1="109.3" y1="484.7" x2="109.3" y2="490.7" stroke="#555" stroke-width="1"/>
<line x1="144.7" y1="484.7" x2="144.7" y2="490.7" stroke="#555" stroke-width="1"/>
<text x="128.4" y="486.3" font-size="8.3" font-weight="bold" text-anchor="middle" fill="#111" >3.9</text>
<rect x="157.5" y="448.3" width="115.2" height="85.7" fill="none" stroke="#6a6a6a" stroke-width="1.3" />
<rect x="183.8" y="458" width="84.2" height="57" fill="none" stroke="#555" stroke-width="1" />
<line x1="184.3" y1="458" x2="184.3" y2="515" stroke="#111" stroke-width="1.4"/>
<path d="M190.6 515 L191.5 509.28 L192.4 510.95 L193.3 507.2 L194.15 507.7 L195 512 L195.9 508.5 L196.8 507.74 L197.7 513.99 L198.6 508.1 L199.5 502.8 L200.37 497.15 L201.23 497.89 L202.1 497.5 L203 501 L203.9 502.52 L204.8 497.5 L205.67 496.82 L206.53 487.94 L207.4 489.5 L208.3 491.65 L209.2 493.9 L210.1 489.69 L211 487.7 L211.85 484.33 L212.7 481.5 L213.6 478.86 L214.5 471.8 L215.4 472.73 L216.3 476.2 L217.15 478.25 L218 481.5 L218.9 490.01 L219.8 490.4 L220.7 487.57 L221.6 493.9 L222.45 496.72 L223.3 501 L224.2 504.24 L225.1 501.51 L226 506.3 L226.7 506.66 L227.4 506.87 L228.1 511.6 L228.8 513.6 L229.5 515 L230.38 515 L231.25 515 L232.12 515 L233 515 L233.5 510 L234.5 515 L235.3 515 L236.1 515 L236.9 515 L237.7 515 L238.5 515 L239.3 515 L240.1 515 L240.9 515 L241.7 515 L242.5 515 L243.3 515 L244.1 515 L244.9 515 L245.7 515 L246.5 515 L247.3 515 L248.1 515 L249 510.58 L249.9 508.1 L250.77 508.93 L251.63 508.08 L252.5 503.7 L253.4 502.56 L254.3 499.94 L255.2 499.2 L256.1 499.27 L257 497.5 L257.85 500.09 L258.7 501.9 L259.6 502.05 L260.5 508.1 L261.4 513.67 L262.3 515 Z" fill="#666" stroke="#111" stroke-width="0.7" stroke-linejoin="miter"/>
<line x1="231" y1="487.4" x2="265.8" y2="487.4" stroke="#555" stroke-width="1"/>
<line x1="231" y1="484.4" x2="231" y2="490.4" stroke="#555" stroke-width="1"/>
<line x1="265.8" y1="484.4" x2="265.8" y2="490.4" stroke="#555" stroke-width="1"/>
<text x="249" y="486.3" font-size="8.3" font-weight="bold" text-anchor="middle" fill="#111" >12.1</text>
<text x="27.5" y="476.4" font-size="10.1" font-weight="bold" text-anchor="middle" fill="#111" transform="rotate(-90 27.5 476.4)" >Counts</text>
<line x1="23.7" y1="507.8" x2="23.7" y2="546.6" stroke="#222" stroke-width="1"/>
<line x1="23.2" y1="546.1" x2="62.3" y2="546.1" stroke="#222" stroke-width="1"/>
<path d="M23.7 503.8 L20.6 510 L26.8 510 Z" fill="#222"/>
<path d="M66.3 546.1 L60.1 543 L60.1 549.2 Z" fill="#222"/>
<text x="76.4" y="550.3" font-size="10.1" font-weight="bold" text-anchor="start" fill="#111" >Annexin-V</text>
<rect x="35.2" y="558.6" width="114.3" height="85.4" fill="none" stroke="#777" stroke-width="1.3" />
<rect x="55.2" y="568.5" width="91.1" height="56.5" fill="none" stroke="#555" stroke-width="1" />
<line x1="55.6" y1="568.5" x2="55.6" y2="625" stroke="#111" stroke-width="1.3"/>
<path d="M55.8 625.0v3.0M61.2 625.0v1.6M64.4 625.0v1.6M66.7 625.0v1.6M68.5 625.0v1.6M69.9 625.0v1.6M71.1 625.0v1.6M72.1 625.0v1.6M73.1 625.0v1.6M73.9 625.0v3.0M79.3 625.0v1.6M82.5 625.0v1.6M84.8 625.0v1.6M86.6 625.0v1.6M88.0 625.0v1.6M89.2 625.0v1.6M90.2 625.0v1.6M91.2 625.0v1.6M92.0 625.0v3.0M97.4 625.0v1.6M100.6 625.0v1.6M102.9 625.0v1.6M104.7 625.0v1.6M106.1 625.0v1.6M107.3 625.0v1.6M108.3 625.0v1.6M109.3 625.0v1.6M110.1 625.0v3.0M115.5 625.0v1.6M118.7 625.0v1.6M121.0 625.0v1.6M122.8 625.0v1.6M124.2 625.0v1.6M125.4 625.0v1.6M126.4 625.0v1.6M127.4 625.0v1.6M128.2 625.0v3.0M133.6 625.0v1.6M136.8 625.0v1.6M139.1 625.0v1.6M140.9 625.0v1.6M142.3 625.0v1.6M143.5 625.0v1.6M144.5 625.0v1.6M145.5 625.0v1.6M55.8 625.0h-3M55.8 618.6h-3M55.8 612.2h-3M55.8 605.8h-3M55.8 599.4h-3M55.8 593.0h-3M55.8 586.6h-3M55.8 580.2h-3M55.8 573.8h-3" stroke="#333" stroke-width="0.7" fill="none"/>
<path d="M55.8 624.5 L55.8 618.8 L56.38 618.95 L56.96 620.05 L57.54 612.17 L58.12 619.07 L58.7 615 L59.33 618.99 L59.97 610.35 L60.6 604.4 L61.23 599.11 L61.87 603.57 L62.5 602.5 L63.13 604.84 L63.77 608.02 L64.4 609.2 L65.03 604.24 L65.67 602.27 L66.3 595.8 L66.97 591.94 L67.63 591.76 L68.3 588.1 L68.93 583.78 L69.57 584.21 L70.2 581.3 L70.85 580.71 L71.5 572.7 L72 569.47 L72.5 569 L73.25 578.74 L74 583.3 L74.67 581.53 L75.33 584.26 L76 586.2 L76.63 590.79 L77.27 600.97 L77.9 601.5 L78.53 604.3 L79.17 616.24 L79.8 616.9 L80.43 614.74 L81.07 619.95 L81.7 621.7 L82.37 623.9 L83.03 624.3 L83.7 624.5 Z" fill="#5a5a5a" stroke="#111" stroke-width="0.7" stroke-linejoin="miter"/>
<line x1="83.7" y1="605.8" x2="118.3" y2="605.8" stroke="#555" stroke-width="1"/>
<line x1="83.7" y1="602.8" x2="83.7" y2="608.8" stroke="#555" stroke-width="1"/>
<line x1="118.3" y1="602.8" x2="118.3" y2="608.8" stroke="#555" stroke-width="1"/>
<text x="101.5" y="604.9" font-size="8.3" font-weight="bold" text-anchor="middle" fill="#111" >0.8</text>
<rect x="156.4" y="558.2" width="115.4" height="85.6" fill="none" stroke="#6a6a6a" stroke-width="1.3" />
<rect x="176.5" y="568.4" width="90" height="56.6" fill="none" stroke="#555" stroke-width="1" />
<line x1="176.9" y1="568.4" x2="176.9" y2="625" stroke="#111" stroke-width="1.3"/>
<path d="M177.0 625.0v3.0M182.4 625.0v1.6M185.5 625.0v1.6M187.8 625.0v1.6M189.5 625.0v1.6M190.9 625.0v1.6M192.1 625.0v1.6M193.2 625.0v1.6M194.1 625.0v1.6M194.9 625.0v3.0M200.3 625.0v1.6M203.4 625.0v1.6M205.7 625.0v1.6M207.4 625.0v1.6M208.8 625.0v1.6M210.0 625.0v1.6M211.1 625.0v1.6M212.0 625.0v1.6M212.8 625.0v3.0M218.2 625.0v1.6M221.3 625.0v1.6M223.6 625.0v1.6M225.3 625.0v1.6M226.7 625.0v1.6M227.9 625.0v1.6M229.0 625.0v1.6M229.9 625.0v1.6M230.7 625.0v3.0M236.1 625.0v1.6M239.2 625.0v1.6M241.5 625.0v1.6M243.2 625.0v1.6M244.6 625.0v1.6M245.8 625.0v1.6M246.9 625.0v1.6M247.8 625.0v1.6M248.6 625.0v3.0M254.0 625.0v1.6M257.1 625.0v1.6M259.4 625.0v1.6M261.1 625.0v1.6M262.5 625.0v1.6M263.7 625.0v1.6M264.8 625.0v1.6M265.7 625.0v1.6M177.0 625.0h-3M177.0 618.6h-3M177.0 612.2h-3M177.0 605.8h-3M177.0 599.4h-3M177.0 593.0h-3M177.0 586.6h-3M177.0 580.2h-3M177.0 573.8h-3" stroke="#333" stroke-width="0.7" fill="none"/>
<path d="M177.3 624.5 L177.3 618.8 L177.88 613.86 L178.45 611.1 L179.03 616.41 L179.6 611.2 L180.13 605.53 L180.67 610.22 L181.2 606.3 L181.85 607.7 L182.5 612.1 L183.13 610.75 L183.77 617.14 L184.4 607.3 L185.03 610.35 L185.67 605.34 L186.3 599.6 L186.97 592.59 L187.63 595.85 L188.3 591.9 L188.93 590.47 L189.57 588.04 L190.2 586.2 L190.83 589.15 L191.47 576.71 L192.1 580.4 L192.6 580.83 L193.1 578.5 L193.73 580.82 L194.37 579.4 L195 583.3 L195.63 591.12 L196.27 582.43 L196.9 588.1 L197.53 592.94 L198.17 597.59 L198.8 601.5 L199.33 599.38 L199.87 607.13 L200.4 616.9 L200.97 615.55 L201.55 621.43 L202.12 622.58 L202.7 621.7 L203.28 622.86 L203.86 622.39 L204.44 618.84 L205.02 622.53 L205.6 621.58 L206.18 624.03 L206.76 624.33 L207.34 624.5 L207.92 623.61 L208.5 622.7 L209.11 623.78 L209.72 621.37 L210.33 622.74 L210.94 620.95 L211.56 623.73 L212.17 620.85 L212.78 622.12 L213.39 621.21 L214 622.2 L214.6 621.48 L215.2 622.73 L215.8 621.01 L216.4 622.12 L217 619.95 L217.6 623.9 L218.2 620.21 L218.8 623.06 L219.4 624.5 L220 620.8 L220.63 614.49 L221.27 616.48 L221.9 617.9 L222.6 618.25 L223.3 622.36 L224 620 L224.62 619.25 L225.23 621.22 L225.85 619.05 L226.47 621.82 L227.08 618.42 L227.7 620.8 L228.33 622.97 L228.97 617.7 L229.6 620.35 L230.23 624.5 L230.87 623.88 L231.5 624.5 Z" fill="#5a5a5a" stroke="#111" stroke-width="0.7" stroke-linejoin="miter"/>
<line x1="205.6" y1="606.3" x2="240.6" y2="606.3" stroke="#555" stroke-width="1"/>
<line x1="205.6" y1="603.3" x2="205.6" y2="609.3" stroke="#555" stroke-width="1"/>
<line x1="240.6" y1="603.3" x2="240.6" y2="609.3" stroke="#555" stroke-width="1"/>
<text x="222.9" y="605.1" font-size="8.3" font-weight="bold" text-anchor="middle" fill="#111" >8.0</text>
<text x="27.5" y="586.5" font-size="10.1" font-weight="bold" text-anchor="middle" fill="#111" transform="rotate(-90 27.5 586.5)" >Counts</text>
<line x1="23.7" y1="618" x2="23.7" y2="658.3" stroke="#222" stroke-width="1"/>
<line x1="23.2" y1="657.8" x2="61.8" y2="657.8" stroke="#222" stroke-width="1"/>
<path d="M23.7 614 L20.6 620.2 L26.8 620.2 Z" fill="#222"/>
<path d="M65.8 657.8 L59.6 654.7 L59.6 660.9 Z" fill="#222"/>
<text x="76.4" y="662" font-size="10.1" font-weight="bold" text-anchor="start" fill="#111" >Cleaved Caspase-3</text>
<line x1="329.4" y1="446.6" x2="329.4" y2="534.3" stroke="#222" stroke-width="1.2"/>
<line x1="326.9" y1="534.3" x2="329.4" y2="534.3" stroke="#222" stroke-width="1.2"/>
<text x="326.4" y="536.93" font-size="7.3" text-anchor="end" fill="#222" >0</text>
<line x1="326.9" y1="505.05" x2="329.4" y2="505.05" stroke="#222" stroke-width="1.2"/>
<text x="326.4" y="507.68" font-size="7.3" text-anchor="end" fill="#222" >5</text>
<line x1="326.9" y1="475.8" x2="329.4" y2="475.8" stroke="#222" stroke-width="1.2"/>
<text x="326.4" y="478.43" font-size="7.3" text-anchor="end" fill="#222" >10</text>
<line x1="326.9" y1="446.55" x2="329.4" y2="446.55" stroke="#222" stroke-width="1.2"/>
<text x="326.4" y="449.18" font-size="7.3" text-anchor="end" fill="#222" >15</text>
<line x1="329.4" y1="534.3" x2="413.5" y2="534.3" stroke="#222" stroke-width="1.2"/>
<line x1="350.6" y1="509.2" x2="350.6" y2="512" stroke="#111" stroke-width="1"/>
<line x1="346.6" y1="509.2" x2="354.6" y2="509.2" stroke="#111" stroke-width="1"/>
<rect x="339.8" y="511.5" width="21.7" height="22.8" fill="#000" stroke="#000" stroke-width="0.8" />
<line x1="372" y1="464.2" x2="372" y2="471" stroke="#111" stroke-width="1"/>
<line x1="367.4" y1="464.2" x2="376.6" y2="464.2" stroke="#111" stroke-width="1"/>
<rect x="361.5" y="470.8" width="21" height="63.5" fill="#fff" stroke="#111" stroke-width="1.2" />
<text x="371" y="455.7" font-size="9.5" font-weight="bold" text-anchor="middle" fill="#111" >**</text>
<line x1="341.7" y1="540.9" x2="382.1" y2="540.9" stroke="#111" stroke-width="1.3"/>
<text x="330.4" y="550.65" font-size="8.4" text-anchor="start" fill="#111" >CD34<tspan font-size="65%" baseline-shift="45%">+</tspan>CD135<tspan font-size="65%" baseline-shift="45%">-</tspan> LSK cells</text>
<text x="314.5" y="490.6" font-size="8.5" text-anchor="middle" fill="#111" transform="rotate(-90 314.5 490.6)" >Annexin-V<tspan font-size="65%" baseline-shift="45%">+</tspan>(%)</text>
<rect x="428.1" y="450.4" width="13.5" height="6.4" fill="#000" stroke="#000" stroke-width="0.8" />
<rect x="428.7" y="461.4" width="12.3" height="4.8" fill="#fff" stroke="#000" stroke-width="1.2" />
<text x="442.5" y="456.75" font-size="8.2" text-anchor="start" fill="#111" >ctrl</text>
<text x="442.5" y="467.15" font-size="8.2" text-anchor="start" fill="#111" >Musk-L;Agrn <tspan font-size="65%" baseline-shift="45%">-/-</tspan></text>
<line x1="329.6" y1="564.7" x2="329.6" y2="651.6" stroke="#222" stroke-width="1.2"/>
<line x1="327.1" y1="651.6" x2="329.6" y2="651.6" stroke="#222" stroke-width="1.2"/>
<text x="326.6" y="654.23" font-size="7.3" text-anchor="end" fill="#222" >0</text>
<line x1="327.1" y1="622.6" x2="329.6" y2="622.6" stroke="#222" stroke-width="1.2"/>
<text x="326.6" y="625.23" font-size="7.3" text-anchor="end" fill="#222" >5</text>
<line x1="327.1" y1="593.6" x2="329.6" y2="593.6" stroke="#222" stroke-width="1.2"/>
<text x="326.6" y="596.23" font-size="7.3" text-anchor="end" fill="#222" >10</text>
<line x1="327.1" y1="564.6" x2="329.6" y2="564.6" stroke="#222" stroke-width="1.2"/>
<text x="326.6" y="567.23" font-size="7.3" text-anchor="end" fill="#222" >15</text>
<line x1="329.6" y1="651.6" x2="412.4" y2="651.6" stroke="#222" stroke-width="1.2"/>
<rect x="339.1" y="648.4" width="21.2" height="3.2" fill="#000" stroke="#000" stroke-width="0.8" />
<line x1="370.7" y1="604.4" x2="370.7" y2="616" stroke="#111" stroke-width="1"/>
<line x1="365.5" y1="604.4" x2="375.9" y2="604.4" stroke="#111" stroke-width="1"/>
<rect x="360.3" y="615.5" width="21" height="36.1" fill="#fff" stroke="#111" stroke-width="1.2" />
<text x="371.2" y="581.9" font-size="9.5" font-weight="bold" text-anchor="middle" fill="#111" >**</text>
<line x1="340.3" y1="657.5" x2="379.8" y2="657.5" stroke="#111" stroke-width="1.3"/>
<text x="329" y="666.95" font-size="8.4" text-anchor="start" fill="#111" >CD34<tspan font-size="65%" baseline-shift="45%">+</tspan>CD135<tspan font-size="65%" baseline-shift="45%">-</tspan> LSK cells</text>
<text x="314.2" y="609.2" font-size="7.95" text-anchor="middle" fill="#111" transform="rotate(-90 314.2 609.2)" >Cleaved Caspase-3<tspan font-size="65%" baseline-shift="45%">+</tspan>(%)</text>
<rect x="423.7" y="567.8" width="13.3" height="6.4" fill="#000" stroke="#000" stroke-width="0.8" />
<rect x="424.3" y="579.3" width="12.1" height="4.3" fill="#fff" stroke="#000" stroke-width="1.2" />
<text x="437.8" y="574.55" font-size="8.2" text-anchor="start" fill="#111" >ctrl</text>
<text x="437.8" y="585.05" font-size="8.2" text-anchor="start" fill="#111" >Musk-L;Agrn<tspan font-size="65%" baseline-shift="45%">-/-</tspan></text>
<text x="6.3" y="687.7" font-size="17.2" font-weight="bold" text-anchor="start" fill="#111" >D</text>
<line x1="61.7" y1="702.5" x2="61.7" y2="794.2" stroke="#222" stroke-width="1.2"/>
<line x1="59.2" y1="794.2" x2="61.7" y2="794.2" stroke="#222" stroke-width="1.2"/>
<text x="58.7" y="796.58" font-size="6.6" font-weight="bold" text-anchor="end" fill="#222" >0</text>
<line x1="59.2" y1="781.1" x2="61.7" y2="781.1" stroke="#222" stroke-width="1.2"/>
<text x="58.7" y="783.48" font-size="6.6" font-weight="bold" text-anchor="end" fill="#222" >20</text>
<line x1="59.2" y1="768" x2="61.7" y2="768" stroke="#222" stroke-width="1.2"/>
<text x="58.7" y="770.38" font-size="6.6" font-weight="bold" text-anchor="end" fill="#222" >40</text>
<line x1="59.2" y1="754.9" x2="61.7" y2="754.9" stroke="#222" stroke-width="1.2"/>
<text x="58.7" y="757.28" font-size="6.6" font-weight="bold" text-anchor="end" fill="#222" >60</text>
<line x1="59.2" y1="741.8" x2="61.7" y2="741.8" stroke="#222" stroke-width="1.2"/>
<text x="58.7" y="744.18" font-size="6.6" font-weight="bold" text-anchor="end" fill="#222" >80</text>
<line x1="59.2" y1="728.7" x2="61.7" y2="728.7" stroke="#222" stroke-width="1.2"/>
<text x="58.7" y="731.08" font-size="6.6" font-weight="bold" text-anchor="end" fill="#222" >100</text>
<line x1="59.2" y1="715.6" x2="61.7" y2="715.6" stroke="#222" stroke-width="1.2"/>
<text x="58.7" y="717.98" font-size="6.6" font-weight="bold" text-anchor="end" fill="#222" >120</text>
<line x1="59.2" y1="702.5" x2="61.7" y2="702.5" stroke="#222" stroke-width="1.2"/>
<text x="58.7" y="704.88" font-size="6.6" font-weight="bold" text-anchor="end" fill="#222" >140</text>
<line x1="61.7" y1="794.2" x2="199.8" y2="794.2" stroke="#222" stroke-width="1.2"/>
<line x1="72.6" y1="718.3" x2="72.6" y2="728.7" stroke="#111" stroke-width="1"/>
<line x1="68.85" y1="718.3" x2="76.35" y2="718.3" stroke="#111" stroke-width="1"/>
<rect x="65.2" y="728.7" width="14.8" height="65.5" fill="#000" stroke="#000" stroke-width="0.8" />
<line x1="86.75" y1="782" x2="86.75" y2="784.6" stroke="#111" stroke-width="1"/>
<line x1="83.75" y1="782" x2="89.75" y2="782" stroke="#111" stroke-width="1"/>
<rect x="80" y="784.6" width="13.5" height="9.6" fill="#fff" stroke="#111" stroke-width="1.2" />
<text x="86.7" y="757.5" font-size="8.5" font-weight="bold" text-anchor="middle" fill="#111" >*</text>
<line x1="66.1" y1="800.3" x2="93.4" y2="800.3" stroke="#111" stroke-width="1.3"/>
<text x="80.65" y="812" font-size="8.5" text-anchor="middle" fill="#111" >GMP</text>
<line x1="106.45" y1="716" x2="106.45" y2="728.7" stroke="#111" stroke-width="1"/>
<line x1="102.7" y1="716" x2="110.2" y2="716" stroke="#111" stroke-width="1"/>
<rect x="99.2" y="728.7" width="14.5" height="65.5" fill="#000" stroke="#000" stroke-width="0.8" />
<line x1="120.6" y1="782.5" x2="120.6" y2="785.2" stroke="#111" stroke-width="1"/>
<line x1="117.6" y1="782.5" x2="123.6" y2="782.5" stroke="#111" stroke-width="1"/>
<rect x="113.7" y="785.2" width="13.8" height="9" fill="#fff" stroke="#111" stroke-width="1.2" />
<text x="119.8" y="757.5" font-size="8.5" font-weight="bold" text-anchor="middle" fill="#111" >*</text>
<line x1="99" y1="800.3" x2="126" y2="800.3" stroke="#111" stroke-width="1.3"/>
<text x="112.95" y="812" font-size="8.5" text-anchor="middle" fill="#111" >CMP</text>
<line x1="141.3" y1="714.6" x2="141.3" y2="728.5" stroke="#111" stroke-width="1"/>
<line x1="137.55" y1="714.6" x2="145.05" y2="714.6" stroke="#111" stroke-width="1"/>
<rect x="133.8" y="728.5" width="15" height="65.7" fill="#000" stroke="#000" stroke-width="0.8" />
<rect x="148.8" y="792.3" width="13.1" height="1.9" fill="#fff" stroke="#111" stroke-width="1.2" />
<text x="154.6" y="757.5" font-size="8.5" font-weight="bold" text-anchor="middle" fill="#111" >*</text>
<line x1="135.4" y1="800.3" x2="160.4" y2="800.3" stroke="#111" stroke-width="1.3"/>
<text x="148.4" y="812" font-size="8.5" text-anchor="middle" fill="#111" >MEP</text>
<line x1="175.6" y1="712.5" x2="175.6" y2="726.9" stroke="#111" stroke-width="1"/>
<line x1="171.85" y1="712.5" x2="179.35" y2="712.5" stroke="#111" stroke-width="1"/>
<rect x="168.1" y="726.9" width="15" height="67.3" fill="#000" stroke="#000" stroke-width="0.8" />
<line x1="189.8" y1="777.5" x2="189.8" y2="782.3" stroke="#111" stroke-width="1"/>
<line x1="186.8" y1="777.5" x2="192.8" y2="777.5" stroke="#111" stroke-width="1"/>
<rect x="183.1" y="782.3" width="13.4" height="11.9" fill="#fff" stroke="#111" stroke-width="1.2" />
<text x="189.6" y="757.5" font-size="8.5" font-weight="bold" text-anchor="middle" fill="#111" >*</text>
<line x1="170.4" y1="800.3" x2="195.4" y2="800.3" stroke="#111" stroke-width="1.3"/>
<text x="183.5" y="812" font-size="8.5" text-anchor="middle" fill="#111" >CLP</text>
<text x="43.8" y="748" font-size="7.75" font-weight="bold" text-anchor="middle" fill="#111" transform="rotate(-90 43.8 748)" >cell number (% of ctrl)</text>
<rect x="208.3" y="706.2" width="14.2" height="6.4" fill="#000" stroke="#000" stroke-width="0.8" />
<rect x="208.9" y="717.2" width="13" height="4.9" fill="#fff" stroke="#000" stroke-width="1.2" />
<text x="223.9" y="712.95" font-size="8.2" text-anchor="start" fill="#111" >ctrl</text>
<text x="223.9" y="723.55" font-size="8.2" text-anchor="start" fill="#111" >Musk-L;Agrn<tspan font-size="65%" baseline-shift="45%">-/-</tspan></text>
</svg>
</body></html>
